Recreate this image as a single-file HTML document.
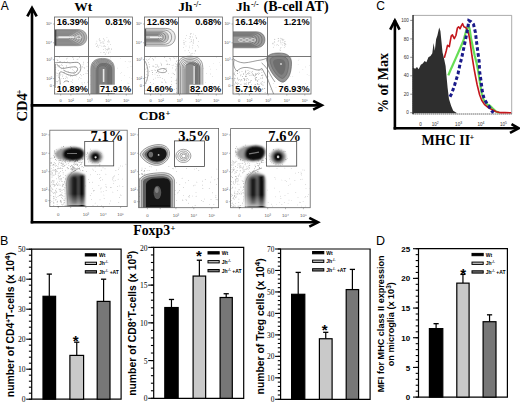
<!DOCTYPE html><html><head><meta charset="utf-8"><style>html,body{margin:0;padding:0;background:#fff;width:520px;height:403px;overflow:hidden}svg{display:block}</style></head><body><svg width="520" height="403" viewBox="0 0 520 403"><defs><filter id="bl" x="-30%" y="-30%" width="160%" height="160%"><feGaussianBlur stdDeviation="0.8"/></filter><filter id="bl2" x="-30%" y="-30%" width="160%" height="160%"><feGaussianBlur stdDeviation="0.6"/></filter><linearGradient id="fd" x1="0" y1="0" x2="0" y2="1"><stop offset="0" stop-color="#fff" stop-opacity="0"/><stop offset="1" stop-color="#fff" stop-opacity="0.55"/></linearGradient></defs><rect width="520" height="403" fill="#fff"/><text x="0.8" y="9.7" font-family="'Liberation Sans', sans-serif" font-size="12">A</text><text x="0" y="244.9" font-family="'Liberation Sans', sans-serif" font-size="12.5">B</text><text x="376.2" y="9.8" font-family="'Liberation Sans', sans-serif" font-size="12">C</text><text x="375.9" y="244.9" font-family="'Liberation Sans', sans-serif" font-size="12.5">D</text><g stroke="#000" stroke-width="2.6" fill="none" stroke-linecap="butt"><line x1="32" y1="8.5" x2="32" y2="223.4"/><polyline points="27.3,16.4 32,8 36.7,16.4" stroke-linejoin="miter"/><line x1="30.7" y1="105.4" x2="321" y2="105.4"/><polyline points="313.2,100.9 321.8,105.3 313.2,109.7"/><line x1="30.7" y1="222.3" x2="317" y2="222.3"/><polyline points="309.3,217.9 318,222.3 309.3,226.7"/></g><text x="74.2" y="11" font-family="'Liberation Serif', serif" font-weight="bold" font-size="13.5">Wt</text><text x="178.3" y="11.3" font-family="'Liberation Serif', serif" font-weight="bold" font-size="13.5">Jh</text><text x="193.4" y="6.6" font-family="'Liberation Serif', serif" font-weight="bold" font-size="8.2">-/-</text><text x="235.9" y="11.3" font-family="'Liberation Serif', serif" font-weight="bold" font-size="13.5">Jh</text><text x="251" y="6.6" font-family="'Liberation Serif', serif" font-weight="bold" font-size="8.2">-/-</text><text x="263.5" y="11.3" font-family="'Liberation Serif', serif" font-weight="bold" font-size="14.1">(B-cell AT)</text><text x="138.8" y="119.8" font-family="'Liberation Serif', serif" font-weight="bold" font-size="13.5">CD8</text><text x="165.5" y="116.4" font-family="'Liberation Serif', serif" font-weight="bold" font-size="8.6">+</text><text x="133.3" y="234.6" font-family="'Liberation Serif', serif" font-weight="bold" font-size="13.8">Foxp3</text><text x="170.6" y="231.2" font-family="'Liberation Serif', serif" font-weight="bold" font-size="8.6">+</text><text transform="translate(26.9,121.6) rotate(-90)" font-family="'Liberation Serif', serif" font-weight="bold" font-size="14.6">CD4</text><text transform="translate(22.2,94.6) rotate(-90)" font-family="'Liberation Serif', serif" font-weight="bold" font-size="8.6">+</text><rect x="54.5" y="17" width="78.0" height="77" fill="#fff"/><clipPath id="c54"><rect x="54.5" y="17" width="78.0" height="77"/></clipPath><line x1="60.7" y1="94" x2="60.7" y2="95.5" stroke="#777" stroke-width="0.5"/><text x="60.7" y="102.2" font-family="'Liberation Sans', sans-serif" font-size="4" fill="#555" text-anchor="middle">0</text><line x1="70.9" y1="94" x2="70.9" y2="95.5" stroke="#777" stroke-width="0.5"/><text x="70.9" y="102.2" font-family="'Liberation Sans', sans-serif" font-size="4" fill="#555" text-anchor="middle">10²</text><line x1="89.6" y1="94" x2="89.6" y2="95.5" stroke="#777" stroke-width="0.5"/><text x="89.6" y="102.2" font-family="'Liberation Sans', sans-serif" font-size="4" fill="#555" text-anchor="middle">10³</text><line x1="108.3" y1="94" x2="108.3" y2="95.5" stroke="#777" stroke-width="0.5"/><text x="108.3" y="102.2" font-family="'Liberation Sans', sans-serif" font-size="4" fill="#555" text-anchor="middle">10⁴</text><line x1="126.3" y1="94" x2="126.3" y2="95.5" stroke="#777" stroke-width="0.5"/><text x="126.3" y="102.2" font-family="'Liberation Sans', sans-serif" font-size="4" fill="#555" text-anchor="middle">10⁵</text><line x1="53.0" y1="85.6" x2="54.5" y2="85.6" stroke="#777" stroke-width="0.5"/><text x="52.0" y="87.0" font-family="'Liberation Sans', sans-serif" font-size="4" fill="#555" text-anchor="end">0</text><line x1="53.0" y1="78.6" x2="54.5" y2="78.6" stroke="#777" stroke-width="0.5"/><text x="52.0" y="80.0" font-family="'Liberation Sans', sans-serif" font-size="4" fill="#555" text-anchor="end">10²</text><line x1="53.0" y1="59.7" x2="54.5" y2="59.7" stroke="#777" stroke-width="0.5"/><text x="52.0" y="61.1" font-family="'Liberation Sans', sans-serif" font-size="4" fill="#555" text-anchor="end">10³</text><line x1="53.0" y1="42.8" x2="54.5" y2="42.8" stroke="#777" stroke-width="0.5"/><text x="52.0" y="44.2" font-family="'Liberation Sans', sans-serif" font-size="4" fill="#555" text-anchor="end">10⁴</text><line x1="53.0" y1="24.0" x2="54.5" y2="24.0" stroke="#777" stroke-width="0.5"/><text x="52.0" y="25.4" font-family="'Liberation Sans', sans-serif" font-size="4" fill="#555" text-anchor="end">10⁵</text><g clip-path="url(#c54)"><g fill="#8a8a8a" opacity="1"><circle cx="66.0" cy="62.6" r="0.35"/><circle cx="77.1" cy="59.7" r="0.35"/><circle cx="73.2" cy="70.5" r="0.35"/><circle cx="57.0" cy="75.8" r="0.35"/><circle cx="56.3" cy="73.0" r="0.35"/><circle cx="57.4" cy="60.4" r="0.35"/><circle cx="69.4" cy="87.6" r="0.35"/><circle cx="59.2" cy="65.3" r="0.35"/><circle cx="76.3" cy="92.1" r="0.35"/><circle cx="74.6" cy="71.7" r="0.35"/><circle cx="88.2" cy="58.7" r="0.35"/><circle cx="84.2" cy="67.7" r="0.35"/><circle cx="59.9" cy="61.4" r="0.35"/><circle cx="65.5" cy="87.2" r="0.35"/><circle cx="61.1" cy="78.5" r="0.35"/><circle cx="76.7" cy="70.8" r="0.35"/><circle cx="73.6" cy="59.3" r="0.35"/><circle cx="57.0" cy="64.6" r="0.35"/><circle cx="78.1" cy="72.8" r="0.35"/><circle cx="65.7" cy="78.7" r="0.35"/><circle cx="70.4" cy="68.1" r="0.35"/><circle cx="82.0" cy="82.9" r="0.35"/><circle cx="63.3" cy="78.3" r="0.35"/><circle cx="72.9" cy="89.4" r="0.35"/><circle cx="79.8" cy="67.7" r="0.35"/><circle cx="88.3" cy="61.4" r="0.35"/><circle cx="69.2" cy="85.0" r="0.35"/><circle cx="60.2" cy="75.1" r="0.35"/><circle cx="56.3" cy="81.7" r="0.35"/><circle cx="81.0" cy="78.2" r="0.35"/><circle cx="84.8" cy="68.6" r="0.35"/><circle cx="78.6" cy="79.0" r="0.35"/><circle cx="74.7" cy="73.9" r="0.35"/><circle cx="83.6" cy="92.0" r="0.35"/><circle cx="71.1" cy="81.6" r="0.35"/><circle cx="57.1" cy="83.0" r="0.35"/><circle cx="77.0" cy="93.7" r="0.35"/><circle cx="82.9" cy="67.5" r="0.35"/><circle cx="68.1" cy="81.7" r="0.35"/><circle cx="55.8" cy="74.1" r="0.35"/><circle cx="60.7" cy="61.3" r="0.35"/><circle cx="57.0" cy="85.4" r="0.35"/><circle cx="59.4" cy="66.2" r="0.35"/><circle cx="68.3" cy="89.2" r="0.35"/><circle cx="57.7" cy="73.6" r="0.35"/><circle cx="73.7" cy="89.7" r="0.35"/><circle cx="82.9" cy="89.0" r="0.35"/><circle cx="64.5" cy="72.4" r="0.35"/><circle cx="67.2" cy="89.7" r="0.35"/><circle cx="87.6" cy="62.6" r="0.35"/><circle cx="61.0" cy="65.6" r="0.35"/><circle cx="62.9" cy="74.9" r="0.35"/><circle cx="75.0" cy="66.7" r="0.35"/><circle cx="55.1" cy="72.5" r="0.35"/><circle cx="67.6" cy="78.0" r="0.35"/><circle cx="87.4" cy="82.5" r="0.35"/><circle cx="72.5" cy="79.9" r="0.35"/><circle cx="78.0" cy="59.0" r="0.35"/><circle cx="85.6" cy="85.9" r="0.35"/><circle cx="84.7" cy="86.5" r="0.35"/><circle cx="68.3" cy="71.8" r="0.35"/><circle cx="58.5" cy="80.5" r="0.35"/><circle cx="57.1" cy="59.5" r="0.35"/><circle cx="62.1" cy="63.0" r="0.35"/><circle cx="66.6" cy="58.9" r="0.35"/><circle cx="55.0" cy="62.6" r="0.35"/><circle cx="58.4" cy="70.5" r="0.35"/><circle cx="55.9" cy="89.4" r="0.35"/><circle cx="75.9" cy="62.5" r="0.35"/><circle cx="63.6" cy="69.9" r="0.35"/><circle cx="67.4" cy="61.5" r="0.35"/><circle cx="83.9" cy="93.7" r="0.35"/><circle cx="70.8" cy="74.9" r="0.35"/><circle cx="57.9" cy="60.8" r="0.35"/><circle cx="66.6" cy="66.8" r="0.35"/><circle cx="83.2" cy="63.0" r="0.35"/><circle cx="55.8" cy="92.2" r="0.35"/><circle cx="73.0" cy="62.4" r="0.35"/><circle cx="73.5" cy="58.0" r="0.35"/><circle cx="73.0" cy="93.2" r="0.35"/><circle cx="84.4" cy="82.8" r="0.35"/><circle cx="63.9" cy="70.6" r="0.35"/><circle cx="60.7" cy="85.6" r="0.35"/><circle cx="73.1" cy="85.8" r="0.35"/><circle cx="66.2" cy="65.3" r="0.35"/><circle cx="82.6" cy="93.4" r="0.35"/><circle cx="84.0" cy="86.8" r="0.35"/><circle cx="82.8" cy="84.4" r="0.35"/><circle cx="62.7" cy="76.2" r="0.35"/><circle cx="67.1" cy="58.1" r="0.35"/><circle cx="55.9" cy="67.3" r="0.35"/><circle cx="63.8" cy="82.6" r="0.35"/><circle cx="87.5" cy="73.5" r="0.35"/><circle cx="86.9" cy="93.6" r="0.35"/><circle cx="87.5" cy="70.5" r="0.35"/><circle cx="62.5" cy="65.4" r="0.35"/><circle cx="61.7" cy="64.6" r="0.35"/><circle cx="76.2" cy="90.3" r="0.35"/><circle cx="83.6" cy="74.7" r="0.35"/><circle cx="77.2" cy="86.6" r="0.35"/><circle cx="57.9" cy="81.4" r="0.35"/><circle cx="85.9" cy="85.9" r="0.35"/><circle cx="80.5" cy="74.7" r="0.35"/><circle cx="61.1" cy="86.2" r="0.35"/><circle cx="66.3" cy="86.6" r="0.35"/><circle cx="88.0" cy="71.6" r="0.35"/><circle cx="68.6" cy="92.0" r="0.35"/><circle cx="79.6" cy="63.3" r="0.35"/><circle cx="59.3" cy="62.6" r="0.35"/><circle cx="85.8" cy="86.8" r="0.35"/><circle cx="60.0" cy="87.6" r="0.35"/><circle cx="88.3" cy="81.3" r="0.35"/><circle cx="66.9" cy="77.3" r="0.35"/><circle cx="59.5" cy="57.5" r="0.35"/><circle cx="88.0" cy="81.0" r="0.35"/><circle cx="72.9" cy="91.5" r="0.35"/><circle cx="69.7" cy="89.3" r="0.35"/><circle cx="83.1" cy="64.8" r="0.35"/><circle cx="63.6" cy="67.8" r="0.35"/><circle cx="63.2" cy="78.7" r="0.35"/><circle cx="63.8" cy="72.5" r="0.35"/><circle cx="59.5" cy="90.7" r="0.35"/><circle cx="67.0" cy="74.0" r="0.35"/><circle cx="74.8" cy="90.5" r="0.35"/><circle cx="69.3" cy="91.0" r="0.35"/><circle cx="72.1" cy="76.7" r="0.35"/><circle cx="72.8" cy="57.7" r="0.35"/><circle cx="70.0" cy="63.8" r="0.35"/><circle cx="55.1" cy="86.6" r="0.35"/><circle cx="60.9" cy="74.5" r="0.35"/><circle cx="79.7" cy="77.6" r="0.35"/><circle cx="66.1" cy="76.2" r="0.35"/><circle cx="73.9" cy="86.0" r="0.35"/><circle cx="58.6" cy="77.7" r="0.35"/><circle cx="63.4" cy="67.2" r="0.35"/><circle cx="81.3" cy="75.8" r="0.35"/><circle cx="74.1" cy="85.1" r="0.35"/><circle cx="86.0" cy="73.4" r="0.35"/><circle cx="75.8" cy="75.7" r="0.35"/><circle cx="72.4" cy="82.6" r="0.35"/><circle cx="70.4" cy="76.7" r="0.35"/><circle cx="71.3" cy="91.8" r="0.35"/><circle cx="78.8" cy="89.4" r="0.35"/><circle cx="87.0" cy="66.6" r="0.35"/><circle cx="74.0" cy="91.9" r="0.35"/><circle cx="83.6" cy="62.1" r="0.35"/><circle cx="59.1" cy="73.4" r="0.35"/><circle cx="57.5" cy="65.9" r="0.35"/><circle cx="57.5" cy="81.8" r="0.35"/><circle cx="81.7" cy="90.2" r="0.35"/><circle cx="60.3" cy="83.5" r="0.35"/><circle cx="77.4" cy="62.3" r="0.35"/><circle cx="85.0" cy="92.8" r="0.35"/><circle cx="62.5" cy="92.2" r="0.35"/><circle cx="68.5" cy="75.0" r="0.35"/><circle cx="88.7" cy="87.8" r="0.35"/><circle cx="60.5" cy="73.0" r="0.35"/><circle cx="72.5" cy="69.5" r="0.35"/><circle cx="61.7" cy="68.8" r="0.35"/><circle cx="79.6" cy="57.7" r="0.35"/><circle cx="73.8" cy="73.3" r="0.35"/><circle cx="55.6" cy="69.3" r="0.35"/><circle cx="76.2" cy="76.0" r="0.35"/><circle cx="57.2" cy="93.4" r="0.35"/><circle cx="81.8" cy="93.0" r="0.35"/><circle cx="58.6" cy="66.8" r="0.35"/><circle cx="56.3" cy="85.8" r="0.35"/><circle cx="64.2" cy="61.8" r="0.35"/><circle cx="69.4" cy="90.7" r="0.35"/><circle cx="82.8" cy="66.6" r="0.35"/></g><g fill="#999" opacity="1"><circle cx="105.4" cy="50.0" r="0.35"/><circle cx="107.8" cy="44.5" r="0.35"/><circle cx="106.7" cy="52.0" r="0.35"/><circle cx="103.1" cy="42.8" r="0.35"/><circle cx="105.1" cy="54.5" r="0.35"/><circle cx="99.4" cy="38.6" r="0.35"/><circle cx="104.5" cy="40.8" r="0.35"/><circle cx="100.2" cy="42.1" r="0.35"/><circle cx="109.2" cy="41.8" r="0.35"/><circle cx="104.0" cy="39.6" r="0.35"/><circle cx="108.7" cy="47.0" r="0.35"/><circle cx="97.8" cy="45.5" r="0.35"/><circle cx="110.4" cy="44.6" r="0.35"/><circle cx="103.9" cy="52.7" r="0.35"/><circle cx="101.9" cy="46.1" r="0.35"/><circle cx="100.9" cy="52.6" r="0.35"/><circle cx="108.1" cy="48.7" r="0.35"/><circle cx="102.1" cy="43.0" r="0.35"/><circle cx="99.1" cy="39.3" r="0.35"/><circle cx="111.4" cy="49.4" r="0.35"/><circle cx="99.6" cy="40.8" r="0.35"/><circle cx="99.9" cy="45.2" r="0.35"/><circle cx="97.2" cy="44.9" r="0.35"/><circle cx="100.2" cy="43.1" r="0.35"/><circle cx="103.5" cy="46.1" r="0.35"/><circle cx="98.0" cy="46.1" r="0.35"/><circle cx="95.8" cy="44.0" r="0.35"/><circle cx="100.1" cy="40.7" r="0.35"/><circle cx="105.7" cy="46.6" r="0.35"/><circle cx="109.0" cy="49.2" r="0.35"/><circle cx="108.3" cy="53.6" r="0.35"/><circle cx="101.8" cy="42.5" r="0.35"/><circle cx="108.5" cy="48.9" r="0.35"/><circle cx="111.8" cy="48.5" r="0.35"/><circle cx="108.7" cy="52.2" r="0.35"/><circle cx="96.8" cy="46.5" r="0.35"/><circle cx="104.1" cy="52.7" r="0.35"/><circle cx="110.1" cy="52.5" r="0.35"/><circle cx="105.7" cy="53.9" r="0.35"/><circle cx="107.7" cy="49.9" r="0.35"/><circle cx="96.7" cy="43.2" r="0.35"/><circle cx="105.2" cy="48.6" r="0.35"/><circle cx="106.5" cy="49.6" r="0.35"/><circle cx="110.0" cy="51.0" r="0.35"/><circle cx="104.1" cy="46.7" r="0.35"/><circle cx="108.7" cy="41.0" r="0.35"/><circle cx="108.6" cy="40.1" r="0.35"/><circle cx="103.9" cy="43.7" r="0.35"/><circle cx="103.6" cy="49.7" r="0.35"/><circle cx="109.3" cy="48.3" r="0.35"/><circle cx="106.9" cy="37.5" r="0.35"/><circle cx="96.9" cy="41.1" r="0.35"/><circle cx="108.9" cy="42.1" r="0.35"/><circle cx="107.4" cy="49.8" r="0.35"/><circle cx="107.5" cy="41.8" r="0.35"/><circle cx="104.3" cy="45.3" r="0.35"/><circle cx="103.3" cy="38.4" r="0.35"/><circle cx="103.0" cy="41.4" r="0.35"/><circle cx="98.2" cy="47.6" r="0.35"/><circle cx="96.8" cy="46.5" r="0.35"/></g><g fill="#aaa" opacity="1"><circle cx="130.0" cy="61.9" r="0.3"/><circle cx="124.4" cy="75.8" r="0.3"/><circle cx="127.2" cy="83.0" r="0.3"/><circle cx="99.7" cy="90.2" r="0.3"/><circle cx="110.4" cy="57.9" r="0.3"/><circle cx="90.2" cy="75.2" r="0.3"/><circle cx="108.9" cy="68.2" r="0.3"/><circle cx="95.9" cy="69.7" r="0.3"/><circle cx="103.3" cy="88.1" r="0.3"/><circle cx="90.1" cy="84.8" r="0.3"/><circle cx="125.2" cy="61.4" r="0.3"/><circle cx="128.9" cy="83.4" r="0.3"/><circle cx="127.9" cy="67.7" r="0.3"/><circle cx="105.6" cy="71.5" r="0.3"/><circle cx="131.9" cy="78.8" r="0.3"/><circle cx="105.1" cy="72.8" r="0.3"/><circle cx="101.6" cy="58.8" r="0.3"/><circle cx="94.3" cy="87.9" r="0.3"/><circle cx="102.0" cy="91.6" r="0.3"/><circle cx="100.5" cy="66.8" r="0.3"/><circle cx="111.5" cy="64.0" r="0.3"/><circle cx="105.7" cy="92.4" r="0.3"/><circle cx="127.1" cy="87.0" r="0.3"/><circle cx="116.5" cy="90.8" r="0.3"/><circle cx="129.5" cy="77.3" r="0.3"/><circle cx="120.2" cy="58.8" r="0.3"/><circle cx="120.8" cy="73.7" r="0.3"/><circle cx="121.6" cy="80.8" r="0.3"/><circle cx="102.0" cy="58.8" r="0.3"/><circle cx="128.9" cy="61.7" r="0.3"/><circle cx="109.8" cy="69.7" r="0.3"/><circle cx="102.5" cy="84.3" r="0.3"/><circle cx="131.0" cy="66.6" r="0.3"/><circle cx="117.6" cy="68.1" r="0.3"/><circle cx="113.4" cy="71.6" r="0.3"/><circle cx="97.0" cy="63.0" r="0.3"/><circle cx="98.7" cy="90.5" r="0.3"/><circle cx="110.9" cy="65.1" r="0.3"/><circle cx="128.1" cy="93.9" r="0.3"/><circle cx="108.9" cy="62.2" r="0.3"/><circle cx="98.1" cy="60.4" r="0.3"/><circle cx="104.4" cy="60.4" r="0.3"/><circle cx="100.0" cy="66.6" r="0.3"/><circle cx="113.9" cy="89.8" r="0.3"/><circle cx="121.5" cy="72.3" r="0.3"/><circle cx="107.4" cy="76.4" r="0.3"/><circle cx="105.8" cy="69.5" r="0.3"/><circle cx="92.6" cy="67.3" r="0.3"/><circle cx="130.6" cy="61.7" r="0.3"/><circle cx="111.1" cy="80.3" r="0.3"/></g><path d="M53.0,29.5 L77.9,29.5 C83.7,29.5 86.8,33.1 86.8,37.6 C86.8,42.1 83.7,45.7 77.9,45.7 L53.0,45.7 Z" fill="#b4b4b4"/><g fill="none" stroke="#5f5f5f" stroke-width="0.5"><path d="M52.5,29.5 L77.9,29.5 C83.7,29.5 86.8,33.1 86.8,37.6 C86.8,42.1 83.7,45.7 77.9,45.7 L52.5,45.7"/><path d="M52.5,30.5 L76.4,30.5 C81.5,30.5 84.3,33.7 84.3,37.6 C84.3,41.5 81.5,44.7 76.4,44.7 L52.5,44.7"/><path d="M52.5,31.4 L75.0,31.4 C79.4,31.4 81.8,34.2 81.8,37.6 C81.8,41.0 79.4,43.8 75.0,43.8 L52.5,43.8"/><path d="M52.5,32.4 L73.5,32.4 C77.2,32.4 79.2,34.7 79.2,37.6 C79.2,40.5 77.2,42.8 73.5,42.8 L52.5,42.8"/><path d="M52.5,33.4 L72.1,33.4 C75.1,33.4 76.7,35.3 76.7,37.6 C76.7,39.9 75.1,41.8 72.1,41.8 L52.5,41.8"/><path d="M52.5,34.3 L70.8,34.3 C73.1,34.3 74.4,35.8 74.4,37.6 C74.4,39.4 73.1,40.9 70.8,40.9 L52.5,40.9"/><path d="M52.5,35.2 L69.4,35.2 C71.2,35.2 72.1,36.3 72.1,37.6 C72.1,38.9 71.2,40.0 69.4,40.0 L52.5,40.0"/><path d="M52.5,36.0 L68.2,36.0 C69.4,36.0 70.0,36.7 70.0,37.6 C70.0,38.5 69.4,39.2 68.2,39.2 L52.5,39.2"/></g><rect x="54.5" y="30" width="1.8" height="15.5" fill="#444"/><line x1="58.4" y1="37.2" x2="74.5" y2="37.2" stroke="#fff" stroke-width="1.3"/><ellipse cx="78.6" cy="37.2" rx="2.6" ry="1.5" fill="none" stroke="#eee" stroke-width="0.8"/><path d="M90.8,96.0 L90.8,69.0 C90.8,60.8 96.1,58.4 102.6,58.4 C109.1,58.4 114.4,60.8 114.4,69.0 L114.4,96.0 Z" fill="#b0b0b0"/><path d="M96.2,96.0 L96.2,70.2 C96.2,64.6 99.8,63.0 104.2,63.0 C108.6,63.0 112.2,64.6 112.2,70.2 L112.2,96.0 Z" fill="#7e7e7e"/><g fill="none" stroke="#5a5a5a" stroke-width="0.5"><path d="M90.8,96.0 L90.8,69.0 C90.8,60.8 96.1,58.4 102.6,58.4 C109.1,58.4 114.4,60.8 114.4,69.0 L114.4,96.0"/><path d="M92.0,96.0 L92.0,69.2 C92.0,61.7 96.8,59.6 102.6,59.6 C108.4,59.6 113.2,61.7 113.2,69.2 L113.2,96.0"/><path d="M93.2,96.0 L93.2,69.3 C93.2,62.7 97.4,60.8 102.6,60.8 C107.8,60.8 112.0,62.7 112.0,69.3 L112.0,96.0"/><path d="M94.3,96.0 L94.3,69.4 C94.3,63.7 98.1,62.0 102.6,62.0 C107.1,62.0 110.9,63.7 110.9,69.4 L110.9,96.0"/><path d="M95.5,96.0 L95.5,69.6 C95.5,64.6 98.7,63.2 102.6,63.2 C106.5,63.2 109.7,64.6 109.7,69.6 L109.7,96.0"/><path d="M96.7,96.0 L96.7,69.7 C96.7,65.6 99.4,64.4 102.6,64.4 C105.8,64.4 108.5,65.6 108.5,69.7 L108.5,96.0"/><path d="M97.9,96.0 L97.9,69.8 C97.9,66.5 100.0,65.6 102.6,65.6 C105.2,65.6 107.3,66.5 107.3,69.8 L107.3,96.0"/></g><line x1="103.6" y1="69" x2="103.6" y2="82" stroke="#e8e8e8" stroke-width="1.6"/><g fill="none" stroke="#5a5a5a" stroke-width="0.6"><path d="M54.6,62.9 C60,61.5 70,63.5 76,62.3 C80,62 81.5,66 80.5,70 C79.5,74 75,76 70.8,75.4 C67,75 63,72 60.9,71.7 C59,72 58.8,76 59.8,79.5 C60.5,83 60,86 59.5,88"/><path d="M57.2,64.4 C59,67 61,68.8 64,68.4 C68,67.5 73,66.5 76,67 C78.5,67.8 78,71.5 74.9,72.8 C71,73.5 67,72 64,70.5"/><path d="M64,82 C65.5,80.5 67.5,80.5 69,82"/><path d="M55.5,64 L55.5,88"/></g></g><rect x="55.8" y="17.5" width="32.7" height="8.3" fill="#fff"/><text x="56.8" y="24.8" font-family="'Liberation Sans', sans-serif" font-weight="bold" font-size="9.2" text-anchor="start">16.39%</text><rect x="104.6" y="17.5" width="27.6" height="8.3" fill="#fff"/><text x="131.2" y="24.8" font-family="'Liberation Sans', sans-serif" font-weight="bold" font-size="9.2" text-anchor="end">0.81%</text><rect x="55.8" y="84.7" width="32.7" height="8.3" fill="#fff"/><text x="56.8" y="92" font-family="'Liberation Sans', sans-serif" font-weight="bold" font-size="9.2" text-anchor="start">10.89%</text><rect x="99.5" y="84.7" width="32.7" height="8.3" fill="#fff"/><text x="131.2" y="92" font-family="'Liberation Sans', sans-serif" font-weight="bold" font-size="9.2" text-anchor="end">71.91%</text><line x1="88.5" y1="17" x2="88.5" y2="94" stroke="#666" stroke-width="0.9"/><line x1="54.5" y1="56.5" x2="132.5" y2="56.5" stroke="#666" stroke-width="0.9"/><rect x="54.5" y="17" width="78.0" height="77" fill="none" stroke="#666" stroke-width="0.8"/><rect x="144.5" y="17" width="78.0" height="77" fill="#fff"/><clipPath id="c144"><rect x="144.5" y="17" width="78.0" height="77"/></clipPath><line x1="150.7" y1="94" x2="150.7" y2="95.5" stroke="#777" stroke-width="0.5"/><text x="150.7" y="102.2" font-family="'Liberation Sans', sans-serif" font-size="4" fill="#555" text-anchor="middle">0</text><line x1="160.9" y1="94" x2="160.9" y2="95.5" stroke="#777" stroke-width="0.5"/><text x="160.9" y="102.2" font-family="'Liberation Sans', sans-serif" font-size="4" fill="#555" text-anchor="middle">10²</text><line x1="179.6" y1="94" x2="179.6" y2="95.5" stroke="#777" stroke-width="0.5"/><text x="179.6" y="102.2" font-family="'Liberation Sans', sans-serif" font-size="4" fill="#555" text-anchor="middle">10³</text><line x1="198.3" y1="94" x2="198.3" y2="95.5" stroke="#777" stroke-width="0.5"/><text x="198.3" y="102.2" font-family="'Liberation Sans', sans-serif" font-size="4" fill="#555" text-anchor="middle">10⁴</text><line x1="216.3" y1="94" x2="216.3" y2="95.5" stroke="#777" stroke-width="0.5"/><text x="216.3" y="102.2" font-family="'Liberation Sans', sans-serif" font-size="4" fill="#555" text-anchor="middle">10⁵</text><line x1="143.0" y1="85.6" x2="144.5" y2="85.6" stroke="#777" stroke-width="0.5"/><text x="142.0" y="87.0" font-family="'Liberation Sans', sans-serif" font-size="4" fill="#555" text-anchor="end">0</text><line x1="143.0" y1="78.6" x2="144.5" y2="78.6" stroke="#777" stroke-width="0.5"/><text x="142.0" y="80.0" font-family="'Liberation Sans', sans-serif" font-size="4" fill="#555" text-anchor="end">10²</text><line x1="143.0" y1="59.7" x2="144.5" y2="59.7" stroke="#777" stroke-width="0.5"/><text x="142.0" y="61.1" font-family="'Liberation Sans', sans-serif" font-size="4" fill="#555" text-anchor="end">10³</text><line x1="143.0" y1="42.8" x2="144.5" y2="42.8" stroke="#777" stroke-width="0.5"/><text x="142.0" y="44.2" font-family="'Liberation Sans', sans-serif" font-size="4" fill="#555" text-anchor="end">10⁴</text><line x1="143.0" y1="24.0" x2="144.5" y2="24.0" stroke="#777" stroke-width="0.5"/><text x="142.0" y="25.4" font-family="'Liberation Sans', sans-serif" font-size="4" fill="#555" text-anchor="end">10⁵</text><g clip-path="url(#c144)"><g fill="#8a8a8a" opacity="1"><circle cx="173.5" cy="65.0" r="0.35"/><circle cx="153.9" cy="66.2" r="0.35"/><circle cx="158.2" cy="73.5" r="0.35"/><circle cx="176.5" cy="88.4" r="0.35"/><circle cx="173.8" cy="57.8" r="0.35"/><circle cx="146.1" cy="83.3" r="0.35"/><circle cx="174.6" cy="74.5" r="0.35"/><circle cx="164.4" cy="57.0" r="0.35"/><circle cx="157.9" cy="91.3" r="0.35"/><circle cx="172.2" cy="88.7" r="0.35"/><circle cx="177.1" cy="66.2" r="0.35"/><circle cx="148.6" cy="62.7" r="0.35"/><circle cx="162.2" cy="82.2" r="0.35"/><circle cx="176.1" cy="83.7" r="0.35"/><circle cx="166.4" cy="85.3" r="0.35"/><circle cx="160.1" cy="77.4" r="0.35"/><circle cx="146.3" cy="85.9" r="0.35"/><circle cx="152.7" cy="91.0" r="0.35"/><circle cx="166.3" cy="68.2" r="0.35"/><circle cx="149.2" cy="66.3" r="0.35"/><circle cx="166.0" cy="82.8" r="0.35"/><circle cx="148.7" cy="59.6" r="0.35"/><circle cx="162.3" cy="78.6" r="0.35"/><circle cx="157.8" cy="65.3" r="0.35"/><circle cx="164.8" cy="57.4" r="0.35"/><circle cx="155.0" cy="74.0" r="0.35"/><circle cx="176.6" cy="80.8" r="0.35"/><circle cx="174.2" cy="74.6" r="0.35"/><circle cx="152.7" cy="66.1" r="0.35"/><circle cx="176.7" cy="83.1" r="0.35"/><circle cx="155.1" cy="57.8" r="0.35"/><circle cx="161.4" cy="82.0" r="0.35"/><circle cx="158.9" cy="66.5" r="0.35"/><circle cx="167.0" cy="91.2" r="0.35"/><circle cx="152.5" cy="58.3" r="0.35"/><circle cx="156.2" cy="72.6" r="0.35"/><circle cx="167.5" cy="64.3" r="0.35"/><circle cx="171.3" cy="84.3" r="0.35"/><circle cx="161.7" cy="64.6" r="0.35"/><circle cx="177.0" cy="68.5" r="0.35"/><circle cx="172.1" cy="65.5" r="0.35"/><circle cx="152.3" cy="85.1" r="0.35"/><circle cx="154.7" cy="92.2" r="0.35"/><circle cx="161.4" cy="63.9" r="0.35"/><circle cx="152.4" cy="72.4" r="0.35"/><circle cx="167.0" cy="92.1" r="0.35"/><circle cx="149.8" cy="71.6" r="0.35"/><circle cx="152.0" cy="93.0" r="0.35"/><circle cx="149.7" cy="58.9" r="0.35"/><circle cx="147.0" cy="71.6" r="0.35"/><circle cx="174.6" cy="89.7" r="0.35"/><circle cx="169.2" cy="93.9" r="0.35"/><circle cx="175.7" cy="69.2" r="0.35"/><circle cx="151.1" cy="91.6" r="0.35"/><circle cx="169.6" cy="58.2" r="0.35"/><circle cx="166.9" cy="71.0" r="0.35"/><circle cx="157.3" cy="69.3" r="0.35"/><circle cx="150.6" cy="57.1" r="0.35"/><circle cx="154.2" cy="70.0" r="0.35"/><circle cx="176.5" cy="61.6" r="0.35"/><circle cx="176.8" cy="64.7" r="0.35"/><circle cx="156.8" cy="87.4" r="0.35"/><circle cx="172.1" cy="73.0" r="0.35"/><circle cx="146.6" cy="74.5" r="0.35"/><circle cx="157.3" cy="91.0" r="0.35"/><circle cx="151.4" cy="70.5" r="0.35"/><circle cx="174.6" cy="58.1" r="0.35"/><circle cx="158.6" cy="87.0" r="0.35"/><circle cx="170.3" cy="58.5" r="0.35"/><circle cx="146.2" cy="59.3" r="0.35"/><circle cx="175.4" cy="66.5" r="0.35"/><circle cx="169.7" cy="90.2" r="0.35"/><circle cx="156.2" cy="67.1" r="0.35"/><circle cx="176.6" cy="79.8" r="0.35"/><circle cx="153.7" cy="83.5" r="0.35"/><circle cx="155.4" cy="67.2" r="0.35"/><circle cx="145.1" cy="85.0" r="0.35"/><circle cx="175.2" cy="80.5" r="0.35"/><circle cx="176.1" cy="57.9" r="0.35"/><circle cx="152.7" cy="74.6" r="0.35"/><circle cx="176.6" cy="92.3" r="0.35"/><circle cx="157.8" cy="66.3" r="0.35"/><circle cx="159.2" cy="75.3" r="0.35"/><circle cx="175.6" cy="63.8" r="0.35"/><circle cx="171.5" cy="84.3" r="0.35"/><circle cx="172.2" cy="85.6" r="0.35"/><circle cx="165.0" cy="69.1" r="0.35"/><circle cx="155.5" cy="70.4" r="0.35"/><circle cx="170.8" cy="59.9" r="0.35"/><circle cx="151.5" cy="84.9" r="0.35"/><circle cx="153.2" cy="59.4" r="0.35"/><circle cx="146.1" cy="77.4" r="0.35"/><circle cx="155.8" cy="93.3" r="0.35"/><circle cx="174.2" cy="93.5" r="0.35"/><circle cx="153.7" cy="60.1" r="0.35"/><circle cx="148.2" cy="75.4" r="0.35"/><circle cx="168.4" cy="73.5" r="0.35"/><circle cx="152.7" cy="72.4" r="0.35"/><circle cx="165.5" cy="81.9" r="0.35"/><circle cx="169.7" cy="88.3" r="0.35"/><circle cx="166.9" cy="61.5" r="0.35"/><circle cx="172.7" cy="67.9" r="0.35"/><circle cx="163.7" cy="70.8" r="0.35"/><circle cx="169.4" cy="64.4" r="0.35"/><circle cx="153.2" cy="66.1" r="0.35"/><circle cx="150.1" cy="89.7" r="0.35"/><circle cx="164.1" cy="69.1" r="0.35"/><circle cx="158.1" cy="93.7" r="0.35"/><circle cx="161.7" cy="65.6" r="0.35"/><circle cx="171.7" cy="81.2" r="0.35"/><circle cx="177.7" cy="60.8" r="0.35"/><circle cx="160.7" cy="87.3" r="0.35"/><circle cx="172.7" cy="90.8" r="0.35"/><circle cx="146.3" cy="67.9" r="0.35"/><circle cx="148.9" cy="64.0" r="0.35"/><circle cx="177.1" cy="78.6" r="0.35"/><circle cx="175.7" cy="70.8" r="0.35"/><circle cx="173.6" cy="73.6" r="0.35"/><circle cx="153.6" cy="85.8" r="0.35"/><circle cx="176.2" cy="60.9" r="0.35"/><circle cx="164.7" cy="79.9" r="0.35"/><circle cx="152.2" cy="70.6" r="0.35"/><circle cx="149.7" cy="64.5" r="0.35"/><circle cx="153.4" cy="79.2" r="0.35"/><circle cx="166.5" cy="64.5" r="0.35"/><circle cx="145.4" cy="69.1" r="0.35"/><circle cx="167.4" cy="63.9" r="0.35"/><circle cx="155.3" cy="64.5" r="0.35"/><circle cx="171.2" cy="77.3" r="0.35"/><circle cx="147.1" cy="60.8" r="0.35"/><circle cx="158.0" cy="77.4" r="0.35"/><circle cx="166.1" cy="60.4" r="0.35"/><circle cx="150.4" cy="82.7" r="0.35"/><circle cx="158.5" cy="67.5" r="0.35"/><circle cx="155.2" cy="92.3" r="0.35"/><circle cx="155.3" cy="78.0" r="0.35"/><circle cx="156.8" cy="72.4" r="0.35"/><circle cx="173.5" cy="93.9" r="0.35"/><circle cx="157.0" cy="64.3" r="0.35"/><circle cx="169.0" cy="64.5" r="0.35"/><circle cx="145.2" cy="90.4" r="0.35"/><circle cx="159.0" cy="87.4" r="0.35"/><circle cx="158.4" cy="89.7" r="0.35"/><circle cx="160.2" cy="63.0" r="0.35"/><circle cx="145.5" cy="77.4" r="0.35"/><circle cx="166.1" cy="90.7" r="0.35"/><circle cx="147.9" cy="80.0" r="0.35"/><circle cx="157.2" cy="75.7" r="0.35"/><circle cx="149.8" cy="67.5" r="0.35"/><circle cx="162.2" cy="91.2" r="0.35"/></g><g fill="#999" opacity="1"><circle cx="184.0" cy="43.8" r="0.35"/><circle cx="190.7" cy="33.3" r="0.35"/><circle cx="198.7" cy="41.3" r="0.35"/><circle cx="198.3" cy="46.9" r="0.35"/><circle cx="196.1" cy="37.3" r="0.35"/><circle cx="189.3" cy="52.3" r="0.35"/><circle cx="185.9" cy="41.6" r="0.35"/><circle cx="191.3" cy="41.2" r="0.35"/><circle cx="192.8" cy="45.2" r="0.35"/><circle cx="193.3" cy="39.3" r="0.35"/><circle cx="189.6" cy="46.0" r="0.35"/><circle cx="189.7" cy="47.8" r="0.35"/><circle cx="190.0" cy="42.5" r="0.35"/><circle cx="190.8" cy="37.6" r="0.35"/><circle cx="195.7" cy="50.7" r="0.35"/><circle cx="190.2" cy="36.3" r="0.35"/><circle cx="190.5" cy="34.6" r="0.35"/><circle cx="184.3" cy="42.3" r="0.35"/><circle cx="183.7" cy="42.6" r="0.35"/><circle cx="193.5" cy="34.0" r="0.35"/><circle cx="195.2" cy="50.7" r="0.35"/><circle cx="191.2" cy="33.3" r="0.35"/><circle cx="191.1" cy="41.1" r="0.35"/><circle cx="195.2" cy="51.6" r="0.35"/><circle cx="190.9" cy="55.0" r="0.35"/><circle cx="195.6" cy="35.8" r="0.35"/><circle cx="191.0" cy="54.1" r="0.35"/><circle cx="185.7" cy="38.3" r="0.35"/><circle cx="191.1" cy="39.7" r="0.35"/><circle cx="194.2" cy="53.5" r="0.35"/><circle cx="185.0" cy="50.8" r="0.35"/><circle cx="184.1" cy="44.7" r="0.35"/><circle cx="193.5" cy="40.6" r="0.35"/><circle cx="197.7" cy="45.3" r="0.35"/><circle cx="192.4" cy="53.2" r="0.35"/><circle cx="193.3" cy="41.5" r="0.35"/><circle cx="196.4" cy="38.4" r="0.35"/><circle cx="188.5" cy="50.4" r="0.35"/><circle cx="190.0" cy="36.2" r="0.35"/><circle cx="196.8" cy="38.1" r="0.35"/><circle cx="192.5" cy="47.9" r="0.35"/><circle cx="193.1" cy="42.4" r="0.35"/><circle cx="191.2" cy="53.5" r="0.35"/><circle cx="183.9" cy="40.6" r="0.35"/><circle cx="186.0" cy="46.0" r="0.35"/><circle cx="192.6" cy="36.9" r="0.35"/><circle cx="193.2" cy="43.4" r="0.35"/><circle cx="186.4" cy="35.6" r="0.35"/><circle cx="183.7" cy="47.3" r="0.35"/><circle cx="189.2" cy="38.3" r="0.35"/></g><g fill="#aaa" opacity="1"><circle cx="178.5" cy="80.9" r="0.3"/><circle cx="202.7" cy="70.0" r="0.3"/><circle cx="206.4" cy="73.4" r="0.3"/><circle cx="219.2" cy="84.1" r="0.3"/><circle cx="188.9" cy="90.4" r="0.3"/><circle cx="179.9" cy="76.7" r="0.3"/><circle cx="195.9" cy="65.8" r="0.3"/><circle cx="180.6" cy="85.8" r="0.3"/><circle cx="178.5" cy="77.4" r="0.3"/><circle cx="219.4" cy="62.3" r="0.3"/><circle cx="186.8" cy="79.5" r="0.3"/><circle cx="200.3" cy="80.7" r="0.3"/><circle cx="213.8" cy="63.5" r="0.3"/><circle cx="191.6" cy="68.1" r="0.3"/><circle cx="180.1" cy="89.9" r="0.3"/><circle cx="212.5" cy="83.5" r="0.3"/><circle cx="178.3" cy="88.2" r="0.3"/><circle cx="210.8" cy="74.2" r="0.3"/><circle cx="210.6" cy="73.7" r="0.3"/><circle cx="187.9" cy="60.9" r="0.3"/><circle cx="188.2" cy="58.4" r="0.3"/><circle cx="192.8" cy="84.7" r="0.3"/><circle cx="208.6" cy="88.3" r="0.3"/><circle cx="209.3" cy="66.8" r="0.3"/><circle cx="202.4" cy="73.1" r="0.3"/><circle cx="212.7" cy="76.4" r="0.3"/><circle cx="189.7" cy="80.8" r="0.3"/><circle cx="220.5" cy="65.0" r="0.3"/><circle cx="216.7" cy="57.6" r="0.3"/><circle cx="189.5" cy="65.7" r="0.3"/><circle cx="210.7" cy="92.0" r="0.3"/><circle cx="210.8" cy="69.1" r="0.3"/><circle cx="216.7" cy="69.2" r="0.3"/><circle cx="188.5" cy="90.6" r="0.3"/><circle cx="205.8" cy="82.6" r="0.3"/><circle cx="207.3" cy="93.2" r="0.3"/><circle cx="198.7" cy="88.1" r="0.3"/><circle cx="208.7" cy="88.7" r="0.3"/><circle cx="197.2" cy="83.8" r="0.3"/><circle cx="203.1" cy="68.4" r="0.3"/></g><path d="M143.0,28.4 L165.5,28.4 C171.8,28.4 175.2,32.4 175.2,37.2 C175.2,42.0 171.8,46.0 165.5,46.0 L143.0,46.0 Z" fill="#ececec"/><path d="M143.0,32.2 L162.5,32.2 C166.1,32.2 168.0,34.5 168.0,37.2 C168.0,40.0 166.1,42.2 162.5,42.2 L143.0,42.2 Z" fill="#c4c4c4"/><g fill="none" stroke="#555" stroke-width="0.55"><path d="M142.5,28.4 L165.5,28.4 C171.8,28.4 175.2,32.4 175.2,37.2 C175.2,42.0 171.8,46.0 165.5,46.0 L142.5,46.0"/><path d="M142.5,30.0 L163.7,30.0 C168.8,30.0 171.6,33.2 171.6,37.2 C171.6,41.2 168.8,44.4 163.7,44.4 L142.5,44.4"/><path d="M142.5,31.4 L162.0,31.4 C166.2,31.4 168.4,34.0 168.4,37.2 C168.4,40.4 166.2,43.0 162.0,43.0 L142.5,43.0"/><path d="M142.5,32.6 L160.6,32.6 C163.9,32.6 165.6,34.7 165.6,37.2 C165.6,39.7 163.9,41.8 160.6,41.8 L142.5,41.8"/><path d="M142.5,33.7 L159.4,33.7 C161.9,33.7 163.2,35.3 163.2,37.2 C163.2,39.1 161.9,40.7 159.4,40.7 L142.5,40.7"/><path d="M142.5,34.6 L158.3,34.6 C160.2,34.6 161.2,35.7 161.2,37.2 C161.2,38.7 160.2,39.8 158.3,39.8 L142.5,39.8"/><path d="M142.5,35.4 L157.3,35.4 C158.6,35.4 159.2,36.2 159.2,37.2 C159.2,38.2 158.6,39.0 157.3,39.0 L142.5,39.0"/></g><rect x="144.5" y="29" width="1.6" height="17" fill="#555"/><line x1="150" y1="37.2" x2="162" y2="37.2" stroke="#fff" stroke-width="1.1"/><path d="M177.2,96.0 L177.2,67.7 C177.2,58.8 183.0,56.2 190.0,56.2 C197.0,56.2 202.8,58.8 202.8,67.7 L202.8,96.0 Z" fill="#eeeeee"/><path d="M185.2,96.0 L185.2,69.0 C185.2,63.7 188.6,62.2 192.8,62.2 C197.0,62.2 200.4,63.7 200.4,69.0 L200.4,96.0 Z" fill="#8e8e8e"/><g fill="none" stroke="#555" stroke-width="0.55"><path d="M177.2,96.0 L177.2,67.7 C177.2,58.8 183.0,56.2 190.0,56.2 C197.0,56.2 202.8,58.8 202.8,67.7 L202.8,96.0"/><path d="M179.0,96.0 L179.0,67.9 C179.0,60.2 183.9,58.0 190.0,58.0 C196.1,58.0 201.0,60.2 201.0,67.9 L201.0,96.0"/><path d="M180.5,96.0 L180.5,68.1 C180.5,61.5 184.8,59.6 190.0,59.6 C195.2,59.6 199.5,61.5 199.5,68.1 L199.5,96.0"/><path d="M182.1,96.0 L182.1,68.3 C182.1,62.7 185.6,61.1 190.0,61.1 C194.4,61.1 197.9,62.7 197.9,68.3 L197.9,96.0"/><path d="M183.3,96.0 L183.3,68.4 C183.3,63.8 186.3,62.4 190.0,62.4 C193.7,62.4 196.7,63.8 196.7,68.4 L196.7,96.0"/><path d="M184.6,96.0 L184.6,68.6 C184.6,64.8 187.0,63.7 190.0,63.7 C193.0,63.7 195.4,64.8 195.4,68.6 L195.4,96.0"/></g><line x1="194.1" y1="66" x2="194.1" y2="84" stroke="#ddd" stroke-width="1.5"/><g fill="none" stroke="#666" stroke-width="0.6"><path d="M157,71 C160,68 166,67.5 166.5,70.5 C167,73 161,73.5 157,71 Z"/><path d="M145,61 C149,68 149,78 145,84"/></g></g><rect x="145.8" y="17.5" width="32.7" height="8.3" fill="#fff"/><text x="146.8" y="24.8" font-family="'Liberation Sans', sans-serif" font-weight="bold" font-size="9.2" text-anchor="start">12.63%</text><rect x="194.6" y="17.5" width="27.6" height="8.3" fill="#fff"/><text x="221.2" y="24.8" font-family="'Liberation Sans', sans-serif" font-weight="bold" font-size="9.2" text-anchor="end">0.68%</text><rect x="145.8" y="84.7" width="27.6" height="8.3" fill="#fff"/><text x="146.8" y="92" font-family="'Liberation Sans', sans-serif" font-weight="bold" font-size="9.2" text-anchor="start">4.60%</text><rect x="189.5" y="84.7" width="32.7" height="8.3" fill="#fff"/><text x="221.2" y="92" font-family="'Liberation Sans', sans-serif" font-weight="bold" font-size="9.2" text-anchor="end">82.08%</text><line x1="178.5" y1="17" x2="178.5" y2="94" stroke="#666" stroke-width="0.9"/><line x1="144.5" y1="56.5" x2="222.5" y2="56.5" stroke="#666" stroke-width="0.9"/><rect x="144.5" y="17" width="78.0" height="77" fill="none" stroke="#666" stroke-width="0.8"/><rect x="233" y="17" width="78" height="77" fill="#fff"/><clipPath id="c233"><rect x="233" y="17" width="78" height="77"/></clipPath><line x1="239.2" y1="94" x2="239.2" y2="95.5" stroke="#777" stroke-width="0.5"/><text x="239.2" y="102.2" font-family="'Liberation Sans', sans-serif" font-size="4" fill="#555" text-anchor="middle">0</text><line x1="249.4" y1="94" x2="249.4" y2="95.5" stroke="#777" stroke-width="0.5"/><text x="249.4" y="102.2" font-family="'Liberation Sans', sans-serif" font-size="4" fill="#555" text-anchor="middle">10²</text><line x1="268.1" y1="94" x2="268.1" y2="95.5" stroke="#777" stroke-width="0.5"/><text x="268.1" y="102.2" font-family="'Liberation Sans', sans-serif" font-size="4" fill="#555" text-anchor="middle">10³</text><line x1="286.8" y1="94" x2="286.8" y2="95.5" stroke="#777" stroke-width="0.5"/><text x="286.8" y="102.2" font-family="'Liberation Sans', sans-serif" font-size="4" fill="#555" text-anchor="middle">10⁴</text><line x1="304.8" y1="94" x2="304.8" y2="95.5" stroke="#777" stroke-width="0.5"/><text x="304.8" y="102.2" font-family="'Liberation Sans', sans-serif" font-size="4" fill="#555" text-anchor="middle">10⁵</text><line x1="231.5" y1="85.6" x2="233" y2="85.6" stroke="#777" stroke-width="0.5"/><text x="230.5" y="87.0" font-family="'Liberation Sans', sans-serif" font-size="4" fill="#555" text-anchor="end">0</text><line x1="231.5" y1="78.6" x2="233" y2="78.6" stroke="#777" stroke-width="0.5"/><text x="230.5" y="80.0" font-family="'Liberation Sans', sans-serif" font-size="4" fill="#555" text-anchor="end">10²</text><line x1="231.5" y1="59.7" x2="233" y2="59.7" stroke="#777" stroke-width="0.5"/><text x="230.5" y="61.1" font-family="'Liberation Sans', sans-serif" font-size="4" fill="#555" text-anchor="end">10³</text><line x1="231.5" y1="42.8" x2="233" y2="42.8" stroke="#777" stroke-width="0.5"/><text x="230.5" y="44.2" font-family="'Liberation Sans', sans-serif" font-size="4" fill="#555" text-anchor="end">10⁴</text><line x1="231.5" y1="24.0" x2="233" y2="24.0" stroke="#777" stroke-width="0.5"/><text x="230.5" y="25.4" font-family="'Liberation Sans', sans-serif" font-size="4" fill="#555" text-anchor="end">10⁵</text><g clip-path="url(#c233)"><g fill="#7a7a7a" opacity="1"><circle cx="241.2" cy="84.2" r="0.38"/><circle cx="236.6" cy="91.7" r="0.38"/><circle cx="237.6" cy="92.2" r="0.38"/><circle cx="245.7" cy="71.7" r="0.38"/><circle cx="257.5" cy="84.5" r="0.38"/><circle cx="257.7" cy="87.2" r="0.38"/><circle cx="236.2" cy="83.4" r="0.38"/><circle cx="246.4" cy="89.3" r="0.38"/><circle cx="261.9" cy="91.2" r="0.38"/><circle cx="236.2" cy="90.6" r="0.38"/><circle cx="265.1" cy="92.6" r="0.38"/><circle cx="237.6" cy="73.3" r="0.38"/><circle cx="262.8" cy="89.1" r="0.38"/><circle cx="255.6" cy="89.5" r="0.38"/><circle cx="255.5" cy="75.5" r="0.38"/><circle cx="237.4" cy="70.5" r="0.38"/><circle cx="259.8" cy="73.3" r="0.38"/><circle cx="244.9" cy="79.0" r="0.38"/><circle cx="234.7" cy="74.7" r="0.38"/><circle cx="243.6" cy="86.6" r="0.38"/><circle cx="246.5" cy="76.3" r="0.38"/><circle cx="262.9" cy="84.1" r="0.38"/><circle cx="235.1" cy="78.7" r="0.38"/><circle cx="248.8" cy="88.1" r="0.38"/><circle cx="245.8" cy="86.3" r="0.38"/><circle cx="252.3" cy="73.6" r="0.38"/><circle cx="261.9" cy="72.4" r="0.38"/><circle cx="234.0" cy="73.3" r="0.38"/><circle cx="259.9" cy="93.4" r="0.38"/><circle cx="234.1" cy="80.8" r="0.38"/><circle cx="250.7" cy="88.7" r="0.38"/><circle cx="240.3" cy="80.9" r="0.38"/><circle cx="245.8" cy="89.6" r="0.38"/><circle cx="242.9" cy="92.5" r="0.38"/><circle cx="243.6" cy="73.6" r="0.38"/><circle cx="257.8" cy="81.0" r="0.38"/><circle cx="237.7" cy="84.5" r="0.38"/><circle cx="236.8" cy="88.5" r="0.38"/><circle cx="257.7" cy="88.5" r="0.38"/><circle cx="255.3" cy="77.2" r="0.38"/><circle cx="247.6" cy="78.3" r="0.38"/><circle cx="241.0" cy="74.8" r="0.38"/><circle cx="246.9" cy="91.0" r="0.38"/><circle cx="241.9" cy="80.0" r="0.38"/><circle cx="252.1" cy="87.6" r="0.38"/><circle cx="259.6" cy="84.8" r="0.38"/><circle cx="245.8" cy="76.5" r="0.38"/><circle cx="239.3" cy="89.9" r="0.38"/><circle cx="256.5" cy="87.3" r="0.38"/><circle cx="239.8" cy="79.4" r="0.38"/><circle cx="260.3" cy="83.1" r="0.38"/><circle cx="238.3" cy="80.0" r="0.38"/><circle cx="240.5" cy="75.8" r="0.38"/><circle cx="257.9" cy="89.9" r="0.38"/><circle cx="239.3" cy="72.1" r="0.38"/><circle cx="242.4" cy="76.5" r="0.38"/><circle cx="251.8" cy="72.2" r="0.38"/><circle cx="245.2" cy="72.9" r="0.38"/><circle cx="237.5" cy="93.0" r="0.38"/><circle cx="237.5" cy="78.0" r="0.38"/><circle cx="258.9" cy="79.3" r="0.38"/><circle cx="240.7" cy="84.6" r="0.38"/><circle cx="237.6" cy="73.4" r="0.38"/><circle cx="247.6" cy="88.6" r="0.38"/><circle cx="257.6" cy="81.0" r="0.38"/><circle cx="255.5" cy="80.0" r="0.38"/><circle cx="238.8" cy="83.7" r="0.38"/><circle cx="247.8" cy="87.3" r="0.38"/><circle cx="253.5" cy="87.5" r="0.38"/><circle cx="248.3" cy="73.9" r="0.38"/><circle cx="258.6" cy="90.9" r="0.38"/><circle cx="260.3" cy="86.2" r="0.38"/><circle cx="263.0" cy="85.7" r="0.38"/><circle cx="255.8" cy="79.8" r="0.38"/><circle cx="244.6" cy="84.3" r="0.38"/><circle cx="237.3" cy="78.9" r="0.38"/><circle cx="260.6" cy="86.5" r="0.38"/><circle cx="255.4" cy="74.5" r="0.38"/><circle cx="248.4" cy="79.8" r="0.38"/><circle cx="255.1" cy="78.6" r="0.38"/><circle cx="257.0" cy="92.2" r="0.38"/><circle cx="240.2" cy="85.0" r="0.38"/><circle cx="260.5" cy="78.1" r="0.38"/><circle cx="250.7" cy="93.3" r="0.38"/><circle cx="235.3" cy="82.1" r="0.38"/><circle cx="239.5" cy="88.3" r="0.38"/><circle cx="237.4" cy="82.9" r="0.38"/><circle cx="252.4" cy="86.6" r="0.38"/><circle cx="251.4" cy="84.6" r="0.38"/><circle cx="262.2" cy="81.6" r="0.38"/><circle cx="248.0" cy="92.6" r="0.38"/><circle cx="241.1" cy="85.8" r="0.38"/><circle cx="247.3" cy="87.8" r="0.38"/><circle cx="238.2" cy="93.6" r="0.38"/><circle cx="243.3" cy="78.4" r="0.38"/><circle cx="234.5" cy="78.9" r="0.38"/><circle cx="248.3" cy="86.2" r="0.38"/><circle cx="246.0" cy="74.9" r="0.38"/><circle cx="241.6" cy="87.3" r="0.38"/><circle cx="241.4" cy="88.8" r="0.38"/><circle cx="247.3" cy="73.5" r="0.38"/><circle cx="238.4" cy="88.2" r="0.38"/><circle cx="261.5" cy="84.5" r="0.38"/><circle cx="250.0" cy="82.6" r="0.38"/><circle cx="241.7" cy="93.1" r="0.38"/><circle cx="246.0" cy="84.6" r="0.38"/><circle cx="261.8" cy="89.2" r="0.38"/><circle cx="249.9" cy="75.7" r="0.38"/><circle cx="252.6" cy="71.3" r="0.38"/><circle cx="262.3" cy="77.2" r="0.38"/><circle cx="262.9" cy="75.0" r="0.38"/><circle cx="246.8" cy="74.6" r="0.38"/><circle cx="248.5" cy="72.8" r="0.38"/><circle cx="234.1" cy="86.8" r="0.38"/><circle cx="243.6" cy="74.4" r="0.38"/><circle cx="244.3" cy="80.5" r="0.38"/><circle cx="248.6" cy="84.6" r="0.38"/><circle cx="256.4" cy="77.4" r="0.38"/><circle cx="235.9" cy="89.5" r="0.38"/><circle cx="264.8" cy="88.4" r="0.38"/><circle cx="238.8" cy="89.6" r="0.38"/><circle cx="234.4" cy="92.7" r="0.38"/><circle cx="256.3" cy="74.5" r="0.38"/><circle cx="237.5" cy="71.7" r="0.38"/><circle cx="241.9" cy="88.2" r="0.38"/><circle cx="245.8" cy="72.0" r="0.38"/><circle cx="264.7" cy="88.6" r="0.38"/><circle cx="239.7" cy="91.2" r="0.38"/><circle cx="254.7" cy="88.3" r="0.38"/><circle cx="256.7" cy="91.2" r="0.38"/><circle cx="260.8" cy="89.8" r="0.38"/><circle cx="240.7" cy="86.0" r="0.38"/><circle cx="252.0" cy="87.3" r="0.38"/><circle cx="248.9" cy="90.9" r="0.38"/><circle cx="252.9" cy="74.9" r="0.38"/><circle cx="242.0" cy="71.6" r="0.38"/><circle cx="249.9" cy="71.8" r="0.38"/><circle cx="250.7" cy="81.0" r="0.38"/><circle cx="252.3" cy="90.4" r="0.38"/><circle cx="234.2" cy="89.9" r="0.38"/><circle cx="249.9" cy="82.6" r="0.38"/><circle cx="256.6" cy="89.9" r="0.38"/><circle cx="246.7" cy="78.9" r="0.38"/><circle cx="255.7" cy="84.5" r="0.38"/><circle cx="235.0" cy="83.9" r="0.38"/><circle cx="257.2" cy="92.2" r="0.38"/><circle cx="245.2" cy="93.5" r="0.38"/><circle cx="251.4" cy="80.6" r="0.38"/><circle cx="258.4" cy="84.3" r="0.38"/><circle cx="245.5" cy="90.4" r="0.38"/><circle cx="246.4" cy="80.3" r="0.38"/><circle cx="251.9" cy="88.0" r="0.38"/><circle cx="241.2" cy="79.3" r="0.38"/><circle cx="248.4" cy="82.4" r="0.38"/><circle cx="262.1" cy="75.6" r="0.38"/><circle cx="262.1" cy="78.5" r="0.38"/><circle cx="251.1" cy="75.1" r="0.38"/><circle cx="251.2" cy="93.3" r="0.38"/><circle cx="256.3" cy="88.6" r="0.38"/><circle cx="245.3" cy="76.2" r="0.38"/><circle cx="244.2" cy="83.2" r="0.38"/><circle cx="255.6" cy="88.4" r="0.38"/><circle cx="235.4" cy="86.8" r="0.38"/><circle cx="264.1" cy="82.2" r="0.38"/><circle cx="235.7" cy="75.8" r="0.38"/><circle cx="234.2" cy="72.9" r="0.38"/><circle cx="256.4" cy="88.5" r="0.38"/><circle cx="255.0" cy="84.3" r="0.38"/><circle cx="257.7" cy="83.5" r="0.38"/><circle cx="257.2" cy="73.5" r="0.38"/><circle cx="256.7" cy="79.9" r="0.38"/><circle cx="259.9" cy="70.6" r="0.38"/><circle cx="260.3" cy="91.8" r="0.38"/><circle cx="256.3" cy="77.6" r="0.38"/><circle cx="262.0" cy="88.5" r="0.38"/><circle cx="253.1" cy="74.7" r="0.38"/><circle cx="244.3" cy="79.0" r="0.38"/><circle cx="244.8" cy="79.2" r="0.38"/><circle cx="255.8" cy="92.3" r="0.38"/><circle cx="235.9" cy="82.8" r="0.38"/><circle cx="235.3" cy="71.1" r="0.38"/><circle cx="261.6" cy="83.0" r="0.38"/><circle cx="234.5" cy="78.1" r="0.38"/><circle cx="254.1" cy="92.4" r="0.38"/><circle cx="248.0" cy="70.7" r="0.38"/><circle cx="255.9" cy="73.5" r="0.38"/><circle cx="234.2" cy="85.8" r="0.38"/><circle cx="238.1" cy="93.1" r="0.38"/><circle cx="237.0" cy="90.6" r="0.38"/><circle cx="258.5" cy="74.3" r="0.38"/><circle cx="258.9" cy="72.9" r="0.38"/><circle cx="235.7" cy="88.1" r="0.38"/><circle cx="258.3" cy="90.2" r="0.38"/><circle cx="258.8" cy="70.2" r="0.38"/><circle cx="255.4" cy="86.4" r="0.38"/><circle cx="249.7" cy="92.2" r="0.38"/><circle cx="242.6" cy="93.1" r="0.38"/><circle cx="234.5" cy="84.9" r="0.38"/><circle cx="261.8" cy="70.1" r="0.38"/><circle cx="244.6" cy="87.0" r="0.38"/><circle cx="239.6" cy="90.4" r="0.38"/><circle cx="246.5" cy="82.9" r="0.38"/><circle cx="248.9" cy="85.6" r="0.38"/><circle cx="238.9" cy="88.7" r="0.38"/><circle cx="246.4" cy="84.8" r="0.38"/><circle cx="255.4" cy="78.9" r="0.38"/><circle cx="247.1" cy="88.4" r="0.38"/><circle cx="253.3" cy="75.6" r="0.38"/><circle cx="236.1" cy="93.3" r="0.38"/><circle cx="257.9" cy="89.5" r="0.38"/><circle cx="245.3" cy="83.8" r="0.38"/><circle cx="254.4" cy="76.0" r="0.38"/><circle cx="248.6" cy="91.1" r="0.38"/><circle cx="246.8" cy="85.8" r="0.38"/><circle cx="254.5" cy="91.3" r="0.38"/><circle cx="261.5" cy="75.4" r="0.38"/><circle cx="234.1" cy="74.8" r="0.38"/><circle cx="248.4" cy="83.3" r="0.38"/><circle cx="261.7" cy="91.1" r="0.38"/><circle cx="235.4" cy="89.7" r="0.38"/><circle cx="261.6" cy="90.5" r="0.38"/><circle cx="253.4" cy="75.1" r="0.38"/><circle cx="262.9" cy="89.0" r="0.38"/><circle cx="257.3" cy="91.8" r="0.38"/><circle cx="245.8" cy="70.2" r="0.38"/><circle cx="252.8" cy="88.7" r="0.38"/><circle cx="240.8" cy="87.5" r="0.38"/><circle cx="254.6" cy="85.6" r="0.38"/><circle cx="249.8" cy="73.4" r="0.38"/><circle cx="242.7" cy="87.5" r="0.38"/></g><g fill="#999" opacity="1"><circle cx="284.2" cy="43.4" r="0.35"/><circle cx="283.9" cy="39.7" r="0.35"/><circle cx="280.4" cy="50.4" r="0.35"/><circle cx="285.9" cy="44.3" r="0.35"/><circle cx="278.6" cy="45.4" r="0.35"/><circle cx="273.3" cy="47.2" r="0.35"/><circle cx="276.5" cy="45.0" r="0.35"/><circle cx="277.2" cy="44.3" r="0.35"/><circle cx="280.7" cy="41.5" r="0.35"/><circle cx="285.6" cy="43.8" r="0.35"/><circle cx="280.2" cy="40.2" r="0.35"/><circle cx="284.0" cy="42.8" r="0.35"/><circle cx="280.0" cy="49.9" r="0.35"/><circle cx="280.8" cy="42.4" r="0.35"/><circle cx="274.6" cy="45.0" r="0.35"/><circle cx="282.1" cy="42.3" r="0.35"/><circle cx="278.1" cy="38.6" r="0.35"/><circle cx="274.6" cy="41.6" r="0.35"/><circle cx="284.2" cy="47.4" r="0.35"/><circle cx="282.2" cy="40.8" r="0.35"/><circle cx="280.6" cy="48.1" r="0.35"/><circle cx="278.7" cy="38.7" r="0.35"/><circle cx="282.9" cy="39.1" r="0.35"/><circle cx="272.5" cy="43.2" r="0.35"/><circle cx="285.2" cy="46.1" r="0.35"/><circle cx="278.1" cy="41.4" r="0.35"/><circle cx="284.8" cy="43.6" r="0.35"/><circle cx="281.3" cy="38.3" r="0.35"/><circle cx="282.8" cy="44.9" r="0.35"/><circle cx="274.8" cy="42.6" r="0.35"/><circle cx="285.1" cy="41.4" r="0.35"/><circle cx="273.0" cy="43.9" r="0.35"/><circle cx="282.0" cy="39.4" r="0.35"/><circle cx="278.6" cy="40.6" r="0.35"/><circle cx="274.6" cy="39.2" r="0.35"/><circle cx="283.1" cy="40.7" r="0.35"/><circle cx="284.5" cy="41.5" r="0.35"/><circle cx="285.0" cy="44.4" r="0.35"/><circle cx="273.3" cy="43.0" r="0.35"/><circle cx="280.3" cy="38.2" r="0.35"/><circle cx="282.8" cy="39.1" r="0.35"/><circle cx="281.0" cy="43.9" r="0.35"/><circle cx="274.9" cy="39.3" r="0.35"/><circle cx="281.0" cy="47.3" r="0.35"/><circle cx="284.6" cy="45.3" r="0.35"/></g><g fill="#aaa" opacity="1"><circle cx="276.7" cy="59.4" r="0.3"/><circle cx="299.5" cy="72.1" r="0.3"/><circle cx="299.0" cy="59.0" r="0.3"/><circle cx="302.9" cy="69.4" r="0.3"/><circle cx="304.2" cy="89.0" r="0.3"/><circle cx="289.2" cy="57.6" r="0.3"/><circle cx="307.1" cy="74.6" r="0.3"/><circle cx="305.5" cy="66.9" r="0.3"/><circle cx="276.0" cy="87.8" r="0.3"/><circle cx="283.8" cy="63.0" r="0.3"/><circle cx="284.0" cy="79.0" r="0.3"/><circle cx="268.2" cy="76.2" r="0.3"/><circle cx="287.2" cy="76.1" r="0.3"/><circle cx="273.2" cy="83.4" r="0.3"/><circle cx="303.1" cy="89.0" r="0.3"/><circle cx="281.8" cy="83.3" r="0.3"/><circle cx="284.4" cy="84.8" r="0.3"/><circle cx="270.6" cy="89.3" r="0.3"/><circle cx="309.0" cy="75.3" r="0.3"/><circle cx="290.1" cy="76.6" r="0.3"/><circle cx="291.1" cy="57.8" r="0.3"/><circle cx="309.6" cy="65.3" r="0.3"/><circle cx="275.8" cy="60.8" r="0.3"/><circle cx="278.8" cy="87.2" r="0.3"/><circle cx="269.3" cy="60.6" r="0.3"/><circle cx="298.1" cy="64.2" r="0.3"/><circle cx="268.8" cy="79.2" r="0.3"/><circle cx="292.8" cy="76.3" r="0.3"/><circle cx="298.2" cy="60.8" r="0.3"/><circle cx="305.4" cy="83.5" r="0.3"/></g><path d="M231.0,31.8 L256.1,31.8 C261.8,31.8 264.9,35.4 264.9,39.8 C264.9,44.2 261.8,47.8 256.1,47.8 L231.0,47.8 Z" fill="#9c9c9c"/><g fill="none" stroke="#555" stroke-width="0.55"><path d="M231.0,31.8 L256.1,31.8 C261.8,31.8 264.9,35.4 264.9,39.8 C264.9,44.2 261.8,47.8 256.1,47.8 L231.0,47.8"/><path d="M231.0,32.9 L254.4,32.9 C259.3,32.9 262.0,36.0 262.0,39.8 C262.0,43.6 259.3,46.7 254.4,46.7 L231.0,46.7"/><path d="M231.0,34.0 L252.8,34.0 C256.9,34.0 259.1,36.6 259.1,39.8 C259.1,43.0 256.9,45.6 252.8,45.6 L231.0,45.6"/><path d="M231.0,35.0 L251.3,35.0 C254.8,35.0 256.6,37.2 256.6,39.8 C256.6,42.4 254.8,44.6 251.3,44.6 L231.0,44.6"/><path d="M231.0,36.0 L249.9,36.0 C252.6,36.0 254.1,37.7 254.1,39.8 C254.1,41.9 252.6,43.6 249.9,43.6 L231.0,43.6"/></g><g fill="none" stroke="#eee" stroke-width="0.8"><ellipse cx="241" cy="40" rx="2.4" ry="1.4"/><ellipse cx="247" cy="40" rx="2.4" ry="1.4"/><ellipse cx="253" cy="40" rx="2.4" ry="1.4"/></g><path d="M266.7,60 C266.7,55 271,53 279,53 C287,53 291.5,56 291.5,63 C291.5,72 289,80 283,82.3 C278,82 269,72 266.7,60 Z" fill="#949494" stroke="#555" stroke-width="0.6"/><path d="M270,61 C270,57.5 273.5,56 279,56 C285.5,56 288.5,58.5 288.5,64 C288.5,71 286.5,77 282.5,78.5 C278.5,78 271.5,70 270,61 Z" fill="#808080" stroke="#5a5a5a" stroke-width="0.5"/><path d="M273,62.5 C273,60 275.5,59 279,59 C283.5,59 285.5,61 285.5,65 C285.5,70 284,74 281.5,75 C279,74.5 274,68.5 273,62.5 Z" fill="#6e6e6e"/><circle cx="281" cy="64" r="0.9" fill="#ddd"/><g fill="none" stroke="#5a5a5a" stroke-width="0.6"><path d="M233,58.5 C236,61 239,62.5 244,62.9 C250,62.5 256,60.5 261,60 C264,59.5 266,58.5 268,57.5"/><path d="M234.3,60.2 C233,63 233.5,68 237,71.1 C239,69 241,68 244,67.5 C248,67 252,68.5 256,69.8 C259,70.5 261,69 262,68.5 C264,72 266,76 268,80 C270,85 272,90 274,95"/><path d="M261.6,62.9 C263.5,64.5 266,67 268.2,70.6 C270,74 272,78 275,82"/></g></g><rect x="234.3" y="17.5" width="32.7" height="8.3" fill="#fff"/><text x="235.3" y="24.8" font-family="'Liberation Sans', sans-serif" font-weight="bold" font-size="9.2" text-anchor="start">16.14%</text><rect x="283.1" y="17.5" width="27.6" height="8.3" fill="#fff"/><text x="309.7" y="24.8" font-family="'Liberation Sans', sans-serif" font-weight="bold" font-size="9.2" text-anchor="end">1.21%</text><rect x="234.3" y="84.7" width="27.6" height="8.3" fill="#fff"/><text x="235.3" y="92" font-family="'Liberation Sans', sans-serif" font-weight="bold" font-size="9.2" text-anchor="start">5.71%</text><rect x="278.0" y="84.7" width="32.7" height="8.3" fill="#fff"/><text x="309.7" y="92" font-family="'Liberation Sans', sans-serif" font-weight="bold" font-size="9.2" text-anchor="end">76.93%</text><line x1="267.5" y1="17" x2="267.5" y2="94" stroke="#666" stroke-width="0.9"/><line x1="233" y1="56.5" x2="311" y2="56.5" stroke="#666" stroke-width="0.9"/><rect x="233" y="17" width="78" height="77" fill="none" stroke="#666" stroke-width="0.8"/><rect x="49.8" y="130.2" width="77.4" height="76.4" fill="#fff"/><clipPath id="d49"><rect x="49.8" y="130.2" width="77.4" height="76.4"/></clipPath><line x1="58.3" y1="206.6" x2="58.3" y2="208.1" stroke="#777" stroke-width="0.5"/><text x="58.3" y="216.0" font-family="'Liberation Sans', sans-serif" font-size="4.4" fill="#555" text-anchor="middle">0</text><line x1="70.7" y1="206.6" x2="70.7" y2="208.1" stroke="#777" stroke-width="0.5"/><line x1="85.9" y1="206.6" x2="85.9" y2="208.1" stroke="#777" stroke-width="0.5"/><text x="85.9" y="216.0" font-family="'Liberation Sans', sans-serif" font-size="4.4" fill="#555" text-anchor="middle">10³</text><line x1="103.2" y1="206.6" x2="103.2" y2="208.1" stroke="#777" stroke-width="0.5"/><text x="103.2" y="216.0" font-family="'Liberation Sans', sans-serif" font-size="4.4" fill="#555" text-anchor="middle">10⁴</text><line x1="120.6" y1="206.6" x2="120.6" y2="208.1" stroke="#777" stroke-width="0.5"/><text x="120.6" y="216.0" font-family="'Liberation Sans', sans-serif" font-size="4.4" fill="#555" text-anchor="middle">10⁵</text><line x1="48.3" y1="200.6" x2="49.8" y2="200.6" stroke="#777" stroke-width="0.5"/><text x="47.3" y="202.0" font-family="'Liberation Sans', sans-serif" font-size="4" fill="#555" text-anchor="end">0</text><line x1="48.3" y1="190.0" x2="49.8" y2="190.0" stroke="#777" stroke-width="0.5"/><text x="47.3" y="191.4" font-family="'Liberation Sans', sans-serif" font-size="4" fill="#555" text-anchor="end">10²</text><line x1="48.3" y1="171.7" x2="49.8" y2="171.7" stroke="#777" stroke-width="0.5"/><text x="47.3" y="173.1" font-family="'Liberation Sans', sans-serif" font-size="4" fill="#555" text-anchor="end">10³</text><line x1="48.3" y1="153.3" x2="49.8" y2="153.3" stroke="#777" stroke-width="0.5"/><text x="47.3" y="154.7" font-family="'Liberation Sans', sans-serif" font-size="4" fill="#555" text-anchor="end">10⁴</text><line x1="48.3" y1="134.9" x2="49.8" y2="134.9" stroke="#777" stroke-width="0.5"/><text x="47.3" y="136.3" font-family="'Liberation Sans', sans-serif" font-size="4" fill="#555" text-anchor="end">10⁵</text><g clip-path="url(#d49)"><g fill="#555" opacity="0.75"><circle cx="51.5" cy="162.3" r="0.36"/><circle cx="59.5" cy="162.2" r="0.36"/><circle cx="63.8" cy="163.0" r="0.36"/><circle cx="55.0" cy="185.2" r="0.36"/><circle cx="75.4" cy="164.4" r="0.36"/><circle cx="63.2" cy="177.4" r="0.36"/><circle cx="63.5" cy="204.0" r="0.36"/><circle cx="58.2" cy="173.1" r="0.36"/><circle cx="64.8" cy="206.0" r="0.36"/><circle cx="51.8" cy="182.4" r="0.36"/><circle cx="58.5" cy="177.5" r="0.36"/><circle cx="68.0" cy="159.5" r="0.36"/><circle cx="64.7" cy="181.7" r="0.36"/><circle cx="50.7" cy="163.1" r="0.36"/><circle cx="71.8" cy="169.6" r="0.36"/><circle cx="73.1" cy="169.9" r="0.36"/><circle cx="71.1" cy="168.8" r="0.36"/><circle cx="82.3" cy="170.7" r="0.36"/><circle cx="60.4" cy="189.0" r="0.36"/><circle cx="54.1" cy="186.3" r="0.36"/><circle cx="59.1" cy="179.8" r="0.36"/><circle cx="68.2" cy="163.6" r="0.36"/><circle cx="54.2" cy="162.7" r="0.36"/><circle cx="60.0" cy="176.7" r="0.36"/><circle cx="59.8" cy="168.4" r="0.36"/><circle cx="53.0" cy="183.9" r="0.36"/><circle cx="56.8" cy="192.2" r="0.36"/><circle cx="65.7" cy="183.9" r="0.36"/><circle cx="60.6" cy="168.4" r="0.36"/><circle cx="57.5" cy="182.1" r="0.36"/><circle cx="63.0" cy="185.9" r="0.36"/><circle cx="50.4" cy="174.0" r="0.36"/><circle cx="79.3" cy="168.2" r="0.36"/><circle cx="59.7" cy="206.4" r="0.36"/><circle cx="60.0" cy="195.4" r="0.36"/><circle cx="55.4" cy="159.4" r="0.36"/><circle cx="52.1" cy="175.8" r="0.36"/><circle cx="65.0" cy="193.5" r="0.36"/><circle cx="53.7" cy="167.5" r="0.36"/><circle cx="55.3" cy="173.2" r="0.36"/><circle cx="62.0" cy="190.4" r="0.36"/><circle cx="81.1" cy="162.5" r="0.36"/><circle cx="65.4" cy="179.4" r="0.36"/><circle cx="74.6" cy="170.9" r="0.36"/><circle cx="63.3" cy="184.3" r="0.36"/><circle cx="63.1" cy="172.4" r="0.36"/><circle cx="56.3" cy="171.5" r="0.36"/><circle cx="54.9" cy="185.3" r="0.36"/><circle cx="69.8" cy="160.5" r="0.36"/><circle cx="82.6" cy="166.4" r="0.36"/><circle cx="64.5" cy="202.4" r="0.36"/><circle cx="50.4" cy="158.4" r="0.36"/><circle cx="62.2" cy="186.3" r="0.36"/><circle cx="61.9" cy="204.3" r="0.36"/><circle cx="53.4" cy="175.1" r="0.36"/><circle cx="63.6" cy="184.6" r="0.36"/><circle cx="65.0" cy="187.9" r="0.36"/><circle cx="55.8" cy="172.2" r="0.36"/><circle cx="67.4" cy="161.6" r="0.36"/><circle cx="55.3" cy="170.8" r="0.36"/><circle cx="56.4" cy="165.3" r="0.36"/><circle cx="62.0" cy="206.7" r="0.36"/><circle cx="71.6" cy="158.2" r="0.36"/><circle cx="64.0" cy="196.2" r="0.36"/><circle cx="60.4" cy="191.2" r="0.36"/><circle cx="50.1" cy="171.5" r="0.36"/><circle cx="72.7" cy="166.0" r="0.36"/><circle cx="59.0" cy="189.0" r="0.36"/><circle cx="54.1" cy="164.0" r="0.36"/><circle cx="75.8" cy="161.4" r="0.36"/><circle cx="53.4" cy="164.7" r="0.36"/><circle cx="55.8" cy="169.6" r="0.36"/><circle cx="53.4" cy="202.1" r="0.36"/><circle cx="65.3" cy="175.7" r="0.36"/><circle cx="51.9" cy="201.4" r="0.36"/><circle cx="64.9" cy="187.6" r="0.36"/><circle cx="58.5" cy="158.2" r="0.36"/><circle cx="60.7" cy="201.8" r="0.36"/><circle cx="58.3" cy="175.9" r="0.36"/><circle cx="74.4" cy="167.3" r="0.36"/><circle cx="60.5" cy="200.6" r="0.36"/><circle cx="58.3" cy="164.8" r="0.36"/><circle cx="62.2" cy="165.5" r="0.36"/><circle cx="83.0" cy="170.8" r="0.36"/><circle cx="69.1" cy="161.9" r="0.36"/><circle cx="63.7" cy="159.3" r="0.36"/><circle cx="54.2" cy="198.1" r="0.36"/><circle cx="61.9" cy="168.5" r="0.36"/><circle cx="56.5" cy="170.5" r="0.36"/><circle cx="55.3" cy="192.0" r="0.36"/><circle cx="53.1" cy="169.8" r="0.36"/><circle cx="78.4" cy="162.5" r="0.36"/><circle cx="65.1" cy="198.7" r="0.36"/><circle cx="77.4" cy="164.1" r="0.36"/><circle cx="62.0" cy="192.8" r="0.36"/><circle cx="62.8" cy="204.9" r="0.36"/><circle cx="57.1" cy="204.5" r="0.36"/><circle cx="67.2" cy="167.6" r="0.36"/><circle cx="65.4" cy="162.7" r="0.36"/><circle cx="74.0" cy="169.3" r="0.36"/><circle cx="62.5" cy="168.6" r="0.36"/><circle cx="70.7" cy="166.8" r="0.36"/><circle cx="79.7" cy="162.3" r="0.36"/><circle cx="59.2" cy="195.4" r="0.36"/><circle cx="63.1" cy="189.5" r="0.36"/><circle cx="63.3" cy="160.4" r="0.36"/><circle cx="56.0" cy="199.4" r="0.36"/><circle cx="60.9" cy="189.8" r="0.36"/><circle cx="53.7" cy="184.7" r="0.36"/><circle cx="62.3" cy="181.5" r="0.36"/><circle cx="60.1" cy="159.4" r="0.36"/><circle cx="60.6" cy="167.5" r="0.36"/><circle cx="54.3" cy="192.6" r="0.36"/><circle cx="59.6" cy="176.6" r="0.36"/><circle cx="54.5" cy="170.1" r="0.36"/><circle cx="51.0" cy="190.7" r="0.36"/><circle cx="64.0" cy="189.6" r="0.36"/><circle cx="73.8" cy="168.7" r="0.36"/><circle cx="71.4" cy="165.3" r="0.36"/><circle cx="53.9" cy="202.5" r="0.36"/><circle cx="51.4" cy="158.0" r="0.36"/><circle cx="55.5" cy="166.1" r="0.36"/><circle cx="60.3" cy="175.4" r="0.36"/><circle cx="51.3" cy="171.9" r="0.36"/><circle cx="71.7" cy="165.2" r="0.36"/><circle cx="74.4" cy="169.0" r="0.36"/><circle cx="64.8" cy="190.9" r="0.36"/><circle cx="59.7" cy="158.2" r="0.36"/><circle cx="51.6" cy="168.5" r="0.36"/><circle cx="53.8" cy="196.4" r="0.36"/><circle cx="57.1" cy="202.6" r="0.36"/><circle cx="75.5" cy="160.4" r="0.36"/><circle cx="59.6" cy="160.6" r="0.36"/><circle cx="51.8" cy="191.6" r="0.36"/><circle cx="64.6" cy="182.1" r="0.36"/><circle cx="81.6" cy="162.5" r="0.36"/><circle cx="75.9" cy="158.2" r="0.36"/><circle cx="58.9" cy="183.9" r="0.36"/><circle cx="68.5" cy="168.7" r="0.36"/><circle cx="52.0" cy="174.2" r="0.36"/><circle cx="64.0" cy="166.3" r="0.36"/><circle cx="60.6" cy="163.0" r="0.36"/><circle cx="58.1" cy="168.3" r="0.36"/><circle cx="60.2" cy="201.1" r="0.36"/><circle cx="54.8" cy="184.7" r="0.36"/><circle cx="61.3" cy="197.6" r="0.36"/><circle cx="55.8" cy="190.0" r="0.36"/><circle cx="53.9" cy="170.8" r="0.36"/><circle cx="62.3" cy="166.5" r="0.36"/><circle cx="52.1" cy="170.3" r="0.36"/><circle cx="56.7" cy="191.8" r="0.36"/><circle cx="65.2" cy="161.8" r="0.36"/><circle cx="61.0" cy="179.9" r="0.36"/><circle cx="62.3" cy="164.6" r="0.36"/><circle cx="52.9" cy="192.6" r="0.36"/><circle cx="53.7" cy="180.9" r="0.36"/><circle cx="64.8" cy="165.7" r="0.36"/><circle cx="72.2" cy="168.8" r="0.36"/><circle cx="58.4" cy="163.1" r="0.36"/><circle cx="50.9" cy="195.5" r="0.36"/><circle cx="56.3" cy="188.5" r="0.36"/><circle cx="55.7" cy="196.0" r="0.36"/><circle cx="61.1" cy="165.4" r="0.36"/><circle cx="62.5" cy="184.1" r="0.36"/><circle cx="62.6" cy="198.4" r="0.36"/><circle cx="58.1" cy="158.1" r="0.36"/><circle cx="55.4" cy="171.3" r="0.36"/><circle cx="69.8" cy="160.1" r="0.36"/><circle cx="73.4" cy="164.3" r="0.36"/><circle cx="65.1" cy="205.5" r="0.36"/><circle cx="53.0" cy="158.0" r="0.36"/><circle cx="64.9" cy="165.7" r="0.36"/><circle cx="59.6" cy="189.7" r="0.36"/><circle cx="61.5" cy="178.4" r="0.36"/><circle cx="80.7" cy="164.4" r="0.36"/><circle cx="60.1" cy="178.6" r="0.36"/><circle cx="56.6" cy="160.3" r="0.36"/><circle cx="61.0" cy="179.5" r="0.36"/><circle cx="77.6" cy="159.1" r="0.36"/><circle cx="60.1" cy="185.1" r="0.36"/><circle cx="61.7" cy="201.1" r="0.36"/><circle cx="50.9" cy="165.6" r="0.36"/><circle cx="52.9" cy="189.7" r="0.36"/><circle cx="62.6" cy="185.6" r="0.36"/><circle cx="64.2" cy="183.0" r="0.36"/><circle cx="53.9" cy="165.2" r="0.36"/><circle cx="53.8" cy="200.0" r="0.36"/><circle cx="58.6" cy="160.8" r="0.36"/><circle cx="68.0" cy="168.8" r="0.36"/><circle cx="57.7" cy="185.2" r="0.36"/><circle cx="53.8" cy="182.2" r="0.36"/><circle cx="70.0" cy="160.1" r="0.36"/><circle cx="63.9" cy="159.7" r="0.36"/><circle cx="64.9" cy="200.0" r="0.36"/><circle cx="75.7" cy="161.8" r="0.36"/><circle cx="53.5" cy="198.3" r="0.36"/><circle cx="63.3" cy="164.7" r="0.36"/><circle cx="76.3" cy="163.0" r="0.36"/><circle cx="76.4" cy="158.9" r="0.36"/><circle cx="58.1" cy="175.0" r="0.36"/><circle cx="50.5" cy="186.3" r="0.36"/><circle cx="57.2" cy="171.3" r="0.36"/><circle cx="55.7" cy="194.0" r="0.36"/><circle cx="61.6" cy="194.9" r="0.36"/><circle cx="54.2" cy="175.0" r="0.36"/><circle cx="74.5" cy="158.2" r="0.36"/><circle cx="70.5" cy="161.1" r="0.36"/><circle cx="53.8" cy="203.2" r="0.36"/><circle cx="73.0" cy="169.0" r="0.36"/><circle cx="56.6" cy="178.8" r="0.36"/><circle cx="53.8" cy="196.8" r="0.36"/><circle cx="56.3" cy="184.3" r="0.36"/><circle cx="59.9" cy="191.0" r="0.36"/><circle cx="62.9" cy="163.4" r="0.36"/><circle cx="61.6" cy="163.7" r="0.36"/><circle cx="56.2" cy="197.7" r="0.36"/><circle cx="66.2" cy="164.1" r="0.36"/><circle cx="52.6" cy="172.8" r="0.36"/><circle cx="57.4" cy="201.6" r="0.36"/><circle cx="70.0" cy="158.2" r="0.36"/><circle cx="55.8" cy="174.4" r="0.36"/><circle cx="65.9" cy="185.4" r="0.36"/><circle cx="63.2" cy="174.0" r="0.36"/><circle cx="50.2" cy="185.5" r="0.36"/><circle cx="65.6" cy="206.3" r="0.36"/><circle cx="51.5" cy="163.4" r="0.36"/><circle cx="72.8" cy="169.9" r="0.36"/><circle cx="59.3" cy="181.5" r="0.36"/><circle cx="58.9" cy="185.0" r="0.36"/><circle cx="62.3" cy="170.4" r="0.36"/><circle cx="60.3" cy="194.9" r="0.36"/><circle cx="52.1" cy="173.2" r="0.36"/><circle cx="61.0" cy="206.4" r="0.36"/><circle cx="58.3" cy="168.0" r="0.36"/><circle cx="61.9" cy="162.9" r="0.36"/><circle cx="50.2" cy="200.4" r="0.36"/><circle cx="65.4" cy="178.7" r="0.36"/><circle cx="55.7" cy="159.4" r="0.36"/><circle cx="60.3" cy="171.7" r="0.36"/><circle cx="52.7" cy="165.1" r="0.36"/><circle cx="62.1" cy="195.5" r="0.36"/><circle cx="64.6" cy="200.3" r="0.36"/><circle cx="52.3" cy="180.7" r="0.36"/><circle cx="80.6" cy="170.1" r="0.36"/><circle cx="55.6" cy="169.7" r="0.36"/><circle cx="73.9" cy="167.1" r="0.36"/><circle cx="63.6" cy="166.2" r="0.36"/><circle cx="72.0" cy="166.0" r="0.36"/><circle cx="70.4" cy="160.0" r="0.36"/><circle cx="61.6" cy="163.0" r="0.36"/><circle cx="56.4" cy="183.4" r="0.36"/><circle cx="81.4" cy="166.8" r="0.36"/><circle cx="61.1" cy="194.2" r="0.36"/><circle cx="52.0" cy="177.1" r="0.36"/><circle cx="51.5" cy="187.9" r="0.36"/><circle cx="61.4" cy="181.2" r="0.36"/><circle cx="70.3" cy="169.1" r="0.36"/><circle cx="83.6" cy="158.9" r="0.36"/><circle cx="61.2" cy="160.8" r="0.36"/><circle cx="55.3" cy="163.3" r="0.36"/><circle cx="76.1" cy="160.6" r="0.36"/><circle cx="75.2" cy="169.1" r="0.36"/><circle cx="65.4" cy="170.2" r="0.36"/><circle cx="83.6" cy="167.6" r="0.36"/><circle cx="75.7" cy="160.6" r="0.36"/><circle cx="51.0" cy="162.8" r="0.36"/><circle cx="52.0" cy="181.6" r="0.36"/><circle cx="68.9" cy="165.3" r="0.36"/><circle cx="55.1" cy="165.0" r="0.36"/><circle cx="76.5" cy="168.4" r="0.36"/><circle cx="61.0" cy="202.1" r="0.36"/><circle cx="53.7" cy="193.4" r="0.36"/><circle cx="52.2" cy="188.9" r="0.36"/><circle cx="63.7" cy="200.1" r="0.36"/><circle cx="52.0" cy="184.8" r="0.36"/><circle cx="63.9" cy="202.9" r="0.36"/><circle cx="57.6" cy="168.8" r="0.36"/><circle cx="58.9" cy="178.1" r="0.36"/><circle cx="57.9" cy="166.4" r="0.36"/><circle cx="60.1" cy="206.7" r="0.36"/><circle cx="57.4" cy="185.0" r="0.36"/><circle cx="55.3" cy="200.0" r="0.36"/><circle cx="79.6" cy="169.6" r="0.36"/><circle cx="59.6" cy="172.9" r="0.36"/><circle cx="55.5" cy="190.8" r="0.36"/><circle cx="57.1" cy="201.1" r="0.36"/><circle cx="62.3" cy="195.8" r="0.36"/><circle cx="79.4" cy="165.3" r="0.36"/><circle cx="53.8" cy="205.7" r="0.36"/><circle cx="50.3" cy="202.5" r="0.36"/><circle cx="55.1" cy="193.5" r="0.36"/><circle cx="53.3" cy="164.6" r="0.36"/><circle cx="73.2" cy="160.6" r="0.36"/><circle cx="61.5" cy="202.8" r="0.36"/><circle cx="58.0" cy="196.4" r="0.36"/><circle cx="67.2" cy="167.8" r="0.36"/><circle cx="64.6" cy="161.3" r="0.36"/><circle cx="50.7" cy="206.5" r="0.36"/><circle cx="60.8" cy="200.8" r="0.36"/><circle cx="54.1" cy="180.9" r="0.36"/></g><g fill="#888" opacity="1"><circle cx="89.7" cy="182.4" r="0.33"/><circle cx="91.5" cy="193.5" r="0.33"/><circle cx="90.2" cy="195.7" r="0.33"/><circle cx="105.0" cy="168.8" r="0.33"/><circle cx="98.9" cy="185.3" r="0.33"/><circle cx="122.6" cy="179.0" r="0.33"/><circle cx="93.0" cy="205.6" r="0.33"/><circle cx="121.1" cy="195.5" r="0.33"/><circle cx="95.5" cy="171.6" r="0.33"/><circle cx="95.1" cy="167.0" r="0.33"/><circle cx="85.8" cy="185.9" r="0.33"/><circle cx="101.1" cy="187.9" r="0.33"/><circle cx="99.2" cy="164.5" r="0.33"/><circle cx="112.9" cy="192.1" r="0.33"/><circle cx="106.8" cy="187.6" r="0.33"/><circle cx="113.0" cy="206.2" r="0.33"/><circle cx="120.7" cy="194.9" r="0.33"/><circle cx="100.8" cy="177.7" r="0.33"/><circle cx="101.6" cy="205.8" r="0.33"/><circle cx="100.3" cy="180.6" r="0.33"/><circle cx="101.2" cy="170.2" r="0.33"/><circle cx="125.9" cy="164.2" r="0.33"/><circle cx="109.5" cy="203.8" r="0.33"/><circle cx="94.7" cy="190.3" r="0.33"/><circle cx="99.8" cy="174.4" r="0.33"/><circle cx="92.3" cy="169.0" r="0.33"/><circle cx="119.4" cy="197.7" r="0.33"/><circle cx="122.2" cy="166.1" r="0.33"/><circle cx="113.2" cy="177.9" r="0.33"/><circle cx="111.1" cy="187.6" r="0.33"/><circle cx="97.3" cy="205.8" r="0.33"/><circle cx="84.0" cy="196.1" r="0.33"/><circle cx="119.8" cy="185.9" r="0.33"/><circle cx="108.9" cy="206.8" r="0.33"/><circle cx="93.8" cy="191.1" r="0.33"/><circle cx="115.2" cy="180.3" r="0.33"/><circle cx="113.9" cy="180.9" r="0.33"/><circle cx="106.1" cy="190.4" r="0.33"/><circle cx="112.4" cy="177.9" r="0.33"/><circle cx="110.4" cy="187.4" r="0.33"/><circle cx="93.4" cy="190.3" r="0.33"/><circle cx="95.1" cy="203.1" r="0.33"/><circle cx="103.9" cy="195.0" r="0.33"/><circle cx="105.9" cy="184.5" r="0.33"/><circle cx="93.3" cy="170.1" r="0.33"/><circle cx="122.9" cy="186.7" r="0.33"/><circle cx="106.0" cy="186.7" r="0.33"/><circle cx="118.2" cy="174.3" r="0.33"/><circle cx="91.2" cy="199.3" r="0.33"/><circle cx="103.3" cy="191.5" r="0.33"/><circle cx="118.8" cy="202.4" r="0.33"/><circle cx="120.4" cy="165.9" r="0.33"/><circle cx="100.0" cy="199.8" r="0.33"/><circle cx="118.3" cy="169.3" r="0.33"/><circle cx="90.5" cy="174.8" r="0.33"/><circle cx="88.3" cy="179.3" r="0.33"/><circle cx="117.7" cy="186.4" r="0.33"/><circle cx="103.0" cy="167.8" r="0.33"/><circle cx="100.6" cy="206.9" r="0.33"/><circle cx="113.2" cy="183.3" r="0.33"/><circle cx="104.1" cy="198.3" r="0.33"/><circle cx="115.9" cy="170.4" r="0.33"/><circle cx="112.6" cy="179.8" r="0.33"/><circle cx="105.9" cy="174.2" r="0.33"/><circle cx="99.6" cy="178.6" r="0.33"/><circle cx="100.0" cy="164.8" r="0.33"/><circle cx="92.4" cy="188.5" r="0.33"/><circle cx="86.4" cy="171.7" r="0.33"/><circle cx="114.2" cy="175.8" r="0.33"/><circle cx="97.6" cy="174.4" r="0.33"/><circle cx="119.0" cy="167.9" r="0.33"/><circle cx="110.7" cy="200.9" r="0.33"/><circle cx="92.5" cy="182.2" r="0.33"/><circle cx="117.3" cy="190.6" r="0.33"/><circle cx="99.6" cy="165.9" r="0.33"/><circle cx="102.6" cy="179.8" r="0.33"/><circle cx="113.9" cy="176.7" r="0.33"/><circle cx="101.1" cy="191.9" r="0.33"/><circle cx="118.1" cy="179.2" r="0.33"/><circle cx="100.2" cy="188.9" r="0.33"/></g><g fill="#555" opacity="1"><circle cx="63.1" cy="156.6" r="0.35"/><circle cx="61.9" cy="147.1" r="0.35"/><circle cx="73.4" cy="152.1" r="0.35"/><circle cx="67.2" cy="153.9" r="0.35"/><circle cx="53.7" cy="155.5" r="0.35"/><circle cx="65.5" cy="153.4" r="0.35"/><circle cx="75.7" cy="152.6" r="0.35"/><circle cx="65.8" cy="160.2" r="0.35"/><circle cx="64.9" cy="153.9" r="0.35"/><circle cx="66.8" cy="159.2" r="0.35"/><circle cx="71.1" cy="157.8" r="0.35"/><circle cx="63.8" cy="146.6" r="0.35"/><circle cx="71.4" cy="154.9" r="0.35"/><circle cx="73.8" cy="158.3" r="0.35"/><circle cx="56.2" cy="149.5" r="0.35"/><circle cx="73.3" cy="155.0" r="0.35"/><circle cx="54.5" cy="156.9" r="0.35"/><circle cx="72.2" cy="153.7" r="0.35"/><circle cx="54.5" cy="157.1" r="0.35"/><circle cx="64.3" cy="155.3" r="0.35"/><circle cx="62.0" cy="154.3" r="0.35"/><circle cx="60.4" cy="150.2" r="0.35"/><circle cx="61.5" cy="150.1" r="0.35"/><circle cx="76.2" cy="154.9" r="0.35"/><circle cx="66.8" cy="152.7" r="0.35"/><circle cx="54.4" cy="150.9" r="0.35"/><circle cx="76.1" cy="150.1" r="0.35"/><circle cx="67.5" cy="152.0" r="0.35"/><circle cx="65.5" cy="153.8" r="0.35"/><circle cx="68.8" cy="151.9" r="0.35"/><circle cx="74.6" cy="149.2" r="0.35"/><circle cx="77.8" cy="154.9" r="0.35"/><circle cx="54.4" cy="151.0" r="0.35"/><circle cx="67.4" cy="152.5" r="0.35"/><circle cx="68.3" cy="151.2" r="0.35"/><circle cx="60.4" cy="158.7" r="0.35"/><circle cx="60.9" cy="157.4" r="0.35"/><circle cx="74.7" cy="155.5" r="0.35"/><circle cx="65.3" cy="161.0" r="0.35"/><circle cx="65.0" cy="160.0" r="0.35"/><circle cx="54.6" cy="152.9" r="0.35"/><circle cx="70.3" cy="146.8" r="0.35"/><circle cx="69.1" cy="148.9" r="0.35"/><circle cx="77.9" cy="155.0" r="0.35"/><circle cx="74.6" cy="154.0" r="0.35"/><circle cx="71.2" cy="156.8" r="0.35"/><circle cx="61.0" cy="149.4" r="0.35"/><circle cx="64.2" cy="156.5" r="0.35"/><circle cx="60.0" cy="160.5" r="0.35"/><circle cx="71.5" cy="148.5" r="0.35"/><circle cx="54.5" cy="157.1" r="0.35"/><circle cx="60.9" cy="149.7" r="0.35"/><circle cx="68.7" cy="151.1" r="0.35"/><circle cx="68.1" cy="148.5" r="0.35"/><circle cx="77.6" cy="151.2" r="0.35"/><circle cx="63.6" cy="146.5" r="0.35"/><circle cx="63.3" cy="156.3" r="0.35"/><circle cx="59.0" cy="154.7" r="0.35"/><circle cx="55.5" cy="153.4" r="0.35"/><circle cx="72.7" cy="152.9" r="0.35"/><circle cx="71.3" cy="147.8" r="0.35"/><circle cx="78.4" cy="154.4" r="0.35"/><circle cx="60.9" cy="151.6" r="0.35"/><circle cx="73.3" cy="153.9" r="0.35"/><circle cx="66.1" cy="159.8" r="0.35"/><circle cx="69.1" cy="154.7" r="0.35"/><circle cx="60.3" cy="160.3" r="0.35"/><circle cx="75.8" cy="149.6" r="0.35"/><circle cx="69.2" cy="161.5" r="0.35"/><circle cx="62.3" cy="161.1" r="0.35"/></g><g fill="#666" opacity="1"><circle cx="84.4" cy="158.9" r="0.35"/><circle cx="77.3" cy="165.6" r="0.35"/><circle cx="75.4" cy="170.6" r="0.35"/><circle cx="73.9" cy="171.4" r="0.35"/><circle cx="76.6" cy="159.2" r="0.35"/><circle cx="82.3" cy="159.6" r="0.35"/><circle cx="70.7" cy="166.7" r="0.35"/><circle cx="72.1" cy="169.0" r="0.35"/><circle cx="72.9" cy="167.8" r="0.35"/><circle cx="77.8" cy="164.4" r="0.35"/><circle cx="73.7" cy="174.0" r="0.35"/><circle cx="72.6" cy="166.0" r="0.35"/><circle cx="73.6" cy="167.1" r="0.35"/><circle cx="81.1" cy="164.2" r="0.35"/><circle cx="74.3" cy="164.9" r="0.35"/><circle cx="70.3" cy="174.0" r="0.35"/><circle cx="75.0" cy="170.8" r="0.35"/><circle cx="81.4" cy="163.0" r="0.35"/><circle cx="82.7" cy="162.0" r="0.35"/><circle cx="75.4" cy="168.2" r="0.35"/><circle cx="79.0" cy="159.5" r="0.35"/><circle cx="75.4" cy="170.5" r="0.35"/><circle cx="77.6" cy="160.4" r="0.35"/><circle cx="74.4" cy="161.7" r="0.35"/><circle cx="74.4" cy="168.6" r="0.35"/><circle cx="72.0" cy="170.2" r="0.35"/><circle cx="77.7" cy="160.8" r="0.35"/><circle cx="75.1" cy="161.4" r="0.35"/><circle cx="80.1" cy="162.0" r="0.35"/><circle cx="78.9" cy="159.5" r="0.35"/><circle cx="77.5" cy="168.1" r="0.35"/><circle cx="77.4" cy="161.6" r="0.35"/><circle cx="72.7" cy="169.6" r="0.35"/><circle cx="70.9" cy="172.0" r="0.35"/><circle cx="74.1" cy="162.6" r="0.35"/><circle cx="78.7" cy="166.5" r="0.35"/><circle cx="81.6" cy="158.0" r="0.35"/><circle cx="75.5" cy="164.0" r="0.35"/><circle cx="72.2" cy="167.4" r="0.35"/><circle cx="71.7" cy="168.6" r="0.35"/><circle cx="71.3" cy="172.2" r="0.35"/><circle cx="77.2" cy="160.3" r="0.35"/><circle cx="73.2" cy="168.0" r="0.35"/><circle cx="82.7" cy="158.8" r="0.35"/><circle cx="76.1" cy="160.8" r="0.35"/><circle cx="73.1" cy="166.8" r="0.35"/><circle cx="76.9" cy="158.9" r="0.35"/><circle cx="76.5" cy="164.5" r="0.35"/><circle cx="74.1" cy="163.3" r="0.35"/><circle cx="77.1" cy="165.5" r="0.35"/></g><g fill="#888" opacity="1"><circle cx="87.2" cy="152.2" r="0.35"/><circle cx="92.9" cy="154.2" r="0.35"/><circle cx="94.0" cy="161.4" r="0.35"/><circle cx="97.7" cy="160.5" r="0.35"/><circle cx="91.3" cy="150.4" r="0.35"/><circle cx="100.1" cy="155.5" r="0.35"/><circle cx="96.2" cy="158.7" r="0.35"/><circle cx="100.1" cy="152.4" r="0.35"/><circle cx="92.3" cy="162.7" r="0.35"/><circle cx="95.6" cy="152.6" r="0.35"/><circle cx="97.6" cy="152.2" r="0.35"/><circle cx="101.5" cy="157.1" r="0.35"/><circle cx="92.1" cy="163.0" r="0.35"/><circle cx="90.3" cy="151.9" r="0.35"/><circle cx="86.4" cy="156.8" r="0.35"/><circle cx="100.1" cy="158.8" r="0.35"/><circle cx="93.3" cy="160.9" r="0.35"/><circle cx="87.2" cy="152.9" r="0.35"/><circle cx="97.9" cy="163.5" r="0.35"/><circle cx="97.7" cy="159.1" r="0.35"/><circle cx="100.5" cy="154.3" r="0.35"/><circle cx="91.8" cy="154.3" r="0.35"/><circle cx="101.1" cy="153.6" r="0.35"/><circle cx="88.7" cy="161.9" r="0.35"/><circle cx="95.6" cy="156.3" r="0.35"/><circle cx="98.4" cy="162.4" r="0.35"/><circle cx="87.7" cy="153.4" r="0.35"/><circle cx="86.3" cy="154.6" r="0.35"/><circle cx="95.0" cy="161.6" r="0.35"/><circle cx="98.4" cy="157.2" r="0.35"/><circle cx="93.1" cy="157.2" r="0.35"/><circle cx="90.5" cy="161.5" r="0.35"/><circle cx="100.8" cy="161.4" r="0.35"/><circle cx="88.0" cy="158.7" r="0.35"/><circle cx="100.1" cy="156.0" r="0.35"/><circle cx="99.9" cy="161.1" r="0.35"/><circle cx="98.0" cy="162.1" r="0.35"/><circle cx="87.6" cy="159.3" r="0.35"/><circle cx="99.1" cy="157.8" r="0.35"/><circle cx="90.5" cy="149.1" r="0.35"/></g><g filter="url(#bl)"><ellipse cx="68" cy="154.2" rx="13" ry="6.6" fill="#999"/><path d="M62.5,154.5 C62.5,149.5 67,147.5 73,147.5 C80,147.5 84.2,149.5 84.2,153.5 C84.2,158.5 80,160.7 73,160.7 C66.5,160.7 62.5,158.5 62.5,154.5 Z" fill="#111"/><ellipse cx="95.4" cy="156.8" rx="7.6" ry="6.6" fill="#aaa"/><ellipse cx="95.4" cy="156.8" rx="5.1" ry="4.8" fill="#111"/></g><line x1="67" y1="153.8" x2="77" y2="153.4" stroke="#777" stroke-width="1.2" filter="url(#bl2)"/><circle cx="95.6" cy="157.3" r="1.1" fill="#ddd"/><g filter="url(#bl)"><path d="M66.2,208.0 L66.2,180.0 C66.2,173.0 72.6,172.0 75.6,172.0 C78.6,172.0 85.0,173.0 85.0,180.0 L85.0,208.0 Z" fill="#9a9a9a"/><path d="M68.4,208.0 L68.4,181.2 C68.4,175.2 73.3,174.2 76.3,174.2 C79.3,174.2 84.2,175.2 84.2,181.2 L84.2,208.0 Z" fill="#5a5a5a"/><path d="M71.5,205.0 L71.5,179.0 C71.5,177.0 71.5,176.0 74.5,176.0 C77.5,176.0 77.6,177.0 77.6,179.0 L77.6,205.0 Z" fill="#1e1e1e"/><path d="M79.4,208.0 L79.4,177.5 C79.4,175.5 79.0,174.5 82.0,174.5 C85.0,174.5 84.6,175.5 84.6,177.5 L84.6,208.0 Z" fill="#0e0e0e"/></g><line x1="78.5" y1="179" x2="78.5" y2="202" stroke="#8a8a8a" stroke-width="1.3" filter="url(#bl2)"/><rect x="65" y="194" width="22" height="11" fill="url(#fd)"/><path d="M80,168 C73,171 66.5,175 66.5,185 L68,207" fill="none" stroke="#777" stroke-width="0.6"/><path d="M71,205 L85,205" stroke="#222" stroke-width="1.6" filter="url(#bl2)"/><rect x="57.3" y="206" width="1.8" height="1.6" fill="#111"/></g><rect x="49.8" y="130.2" width="77.4" height="76.4" fill="none" stroke="#666" stroke-width="0.8"/><rect x="84.7" y="141.5" width="29.0" height="24.400000000000006" fill="none" stroke="#444" stroke-width="0.8"/><text x="90.5" y="140.9" font-family="'Liberation Serif', serif" font-weight="bold" font-size="14.5">7.1%</text><rect x="138.6" y="128.5" width="80.0" height="79.19999999999999" fill="#fff"/><clipPath id="d138"><rect x="138.6" y="128.5" width="80.0" height="79.19999999999999"/></clipPath><line x1="147.4" y1="207.7" x2="147.4" y2="209.2" stroke="#777" stroke-width="0.5"/><text x="147.4" y="217.1" font-family="'Liberation Sans', sans-serif" font-size="4.4" fill="#555" text-anchor="middle">0</text><line x1="160.2" y1="207.7" x2="160.2" y2="209.2" stroke="#777" stroke-width="0.5"/><line x1="175.9" y1="207.7" x2="175.9" y2="209.2" stroke="#777" stroke-width="0.5"/><text x="175.9" y="217.1" font-family="'Liberation Sans', sans-serif" font-size="4.4" fill="#555" text-anchor="middle">10³</text><line x1="193.8" y1="207.7" x2="193.8" y2="209.2" stroke="#777" stroke-width="0.5"/><text x="193.8" y="217.1" font-family="'Liberation Sans', sans-serif" font-size="4.4" fill="#555" text-anchor="middle">10⁴</text><line x1="211.8" y1="207.7" x2="211.8" y2="209.2" stroke="#777" stroke-width="0.5"/><text x="211.8" y="217.1" font-family="'Liberation Sans', sans-serif" font-size="4.4" fill="#555" text-anchor="middle">10⁵</text><line x1="137.1" y1="201.7" x2="138.6" y2="201.7" stroke="#777" stroke-width="0.5"/><text x="136.1" y="203.1" font-family="'Liberation Sans', sans-serif" font-size="4" fill="#555" text-anchor="end">0</text><line x1="137.1" y1="190.0" x2="138.6" y2="190.0" stroke="#777" stroke-width="0.5"/><text x="136.1" y="191.4" font-family="'Liberation Sans', sans-serif" font-size="4" fill="#555" text-anchor="end">10²</text><line x1="137.1" y1="171.7" x2="138.6" y2="171.7" stroke="#777" stroke-width="0.5"/><text x="136.1" y="173.1" font-family="'Liberation Sans', sans-serif" font-size="4" fill="#555" text-anchor="end">10³</text><line x1="137.1" y1="153.3" x2="138.6" y2="153.3" stroke="#777" stroke-width="0.5"/><text x="136.1" y="154.7" font-family="'Liberation Sans', sans-serif" font-size="4" fill="#555" text-anchor="end">10⁴</text><line x1="137.1" y1="134.9" x2="138.6" y2="134.9" stroke="#777" stroke-width="0.5"/><text x="136.1" y="136.3" font-family="'Liberation Sans', sans-serif" font-size="4" fill="#555" text-anchor="end">10⁵</text><g clip-path="url(#d138)"><g fill="#777" opacity="1"><circle cx="186.7" cy="200.6" r="0.33"/><circle cx="160.6" cy="174.9" r="0.33"/><circle cx="156.7" cy="169.9" r="0.33"/><circle cx="192.4" cy="206.9" r="0.33"/><circle cx="202.4" cy="181.1" r="0.33"/><circle cx="194.3" cy="169.0" r="0.33"/><circle cx="205.2" cy="179.7" r="0.33"/><circle cx="139.3" cy="192.4" r="0.33"/><circle cx="150.0" cy="177.6" r="0.33"/><circle cx="143.7" cy="184.7" r="0.33"/><circle cx="182.8" cy="199.9" r="0.33"/><circle cx="142.1" cy="200.8" r="0.33"/><circle cx="147.7" cy="175.4" r="0.33"/><circle cx="188.7" cy="180.3" r="0.33"/><circle cx="165.2" cy="189.9" r="0.33"/><circle cx="156.2" cy="199.3" r="0.33"/><circle cx="155.5" cy="201.3" r="0.33"/><circle cx="202.9" cy="188.6" r="0.33"/><circle cx="141.4" cy="198.7" r="0.33"/><circle cx="141.2" cy="187.2" r="0.33"/><circle cx="172.5" cy="168.6" r="0.33"/><circle cx="188.8" cy="196.4" r="0.33"/><circle cx="185.2" cy="182.8" r="0.33"/><circle cx="179.5" cy="190.7" r="0.33"/><circle cx="156.9" cy="202.4" r="0.33"/><circle cx="217.7" cy="199.8" r="0.33"/><circle cx="214.9" cy="179.8" r="0.33"/><circle cx="216.9" cy="169.0" r="0.33"/><circle cx="176.8" cy="171.6" r="0.33"/><circle cx="174.9" cy="194.7" r="0.33"/><circle cx="195.0" cy="185.1" r="0.33"/><circle cx="166.0" cy="174.0" r="0.33"/><circle cx="170.8" cy="177.9" r="0.33"/><circle cx="154.3" cy="196.9" r="0.33"/><circle cx="179.8" cy="184.4" r="0.33"/><circle cx="154.6" cy="195.6" r="0.33"/><circle cx="154.5" cy="177.2" r="0.33"/><circle cx="183.3" cy="195.5" r="0.33"/><circle cx="215.9" cy="197.4" r="0.33"/><circle cx="213.9" cy="204.6" r="0.33"/><circle cx="196.1" cy="196.2" r="0.33"/><circle cx="144.0" cy="174.6" r="0.33"/><circle cx="140.0" cy="202.3" r="0.33"/><circle cx="196.0" cy="192.5" r="0.33"/><circle cx="159.8" cy="180.9" r="0.33"/><circle cx="151.9" cy="192.6" r="0.33"/><circle cx="217.3" cy="178.8" r="0.33"/><circle cx="142.5" cy="173.4" r="0.33"/><circle cx="167.1" cy="203.8" r="0.33"/><circle cx="202.6" cy="185.1" r="0.33"/><circle cx="147.1" cy="170.5" r="0.33"/><circle cx="151.2" cy="198.7" r="0.33"/><circle cx="176.2" cy="207.6" r="0.33"/><circle cx="211.0" cy="199.4" r="0.33"/><circle cx="176.6" cy="200.5" r="0.33"/><circle cx="149.1" cy="170.6" r="0.33"/><circle cx="183.5" cy="187.3" r="0.33"/><circle cx="155.5" cy="176.6" r="0.33"/><circle cx="140.7" cy="204.2" r="0.33"/><circle cx="195.1" cy="205.7" r="0.33"/><circle cx="216.5" cy="184.3" r="0.33"/><circle cx="196.9" cy="182.1" r="0.33"/><circle cx="203.1" cy="201.3" r="0.33"/><circle cx="149.6" cy="166.5" r="0.33"/><circle cx="155.9" cy="190.6" r="0.33"/><circle cx="168.9" cy="166.4" r="0.33"/><circle cx="204.6" cy="199.0" r="0.33"/><circle cx="175.6" cy="167.8" r="0.33"/><circle cx="209.2" cy="188.4" r="0.33"/><circle cx="144.6" cy="179.6" r="0.33"/><circle cx="188.3" cy="203.2" r="0.33"/><circle cx="177.3" cy="192.9" r="0.33"/><circle cx="155.3" cy="176.2" r="0.33"/><circle cx="210.6" cy="182.1" r="0.33"/><circle cx="147.2" cy="190.8" r="0.33"/><circle cx="149.0" cy="174.4" r="0.33"/><circle cx="175.1" cy="190.6" r="0.33"/><circle cx="189.3" cy="195.7" r="0.33"/><circle cx="173.7" cy="168.8" r="0.33"/><circle cx="196.2" cy="168.3" r="0.33"/><circle cx="176.2" cy="182.8" r="0.33"/><circle cx="192.2" cy="196.0" r="0.33"/><circle cx="157.9" cy="193.3" r="0.33"/><circle cx="193.7" cy="185.8" r="0.33"/><circle cx="150.2" cy="204.2" r="0.33"/><circle cx="186.3" cy="168.6" r="0.33"/><circle cx="157.8" cy="207.4" r="0.33"/><circle cx="157.1" cy="182.5" r="0.33"/><circle cx="201.3" cy="200.6" r="0.33"/><circle cx="189.1" cy="197.1" r="0.33"/><circle cx="142.0" cy="169.9" r="0.33"/><circle cx="216.1" cy="199.7" r="0.33"/><circle cx="142.0" cy="168.0" r="0.33"/><circle cx="158.0" cy="205.1" r="0.33"/><circle cx="156.3" cy="194.2" r="0.33"/><circle cx="212.5" cy="192.8" r="0.33"/><circle cx="211.6" cy="177.0" r="0.33"/><circle cx="151.1" cy="166.8" r="0.33"/><circle cx="198.8" cy="170.4" r="0.33"/><circle cx="215.9" cy="195.8" r="0.33"/><circle cx="153.8" cy="199.9" r="0.33"/><circle cx="151.9" cy="187.5" r="0.33"/><circle cx="147.4" cy="199.1" r="0.33"/><circle cx="209.3" cy="204.5" r="0.33"/><circle cx="139.2" cy="201.8" r="0.33"/><circle cx="182.9" cy="200.5" r="0.33"/><circle cx="178.7" cy="192.0" r="0.33"/><circle cx="186.0" cy="199.6" r="0.33"/><circle cx="145.1" cy="168.3" r="0.33"/><circle cx="182.1" cy="178.2" r="0.33"/></g><g fill="#555" opacity="1"><circle cx="141.8" cy="170.3" r="0.35"/><circle cx="144.2" cy="170.9" r="0.35"/><circle cx="144.8" cy="200.8" r="0.35"/><circle cx="142.2" cy="174.6" r="0.35"/><circle cx="143.6" cy="177.9" r="0.35"/><circle cx="142.0" cy="174.2" r="0.35"/><circle cx="145.8" cy="190.8" r="0.35"/><circle cx="141.5" cy="173.6" r="0.35"/><circle cx="144.1" cy="202.3" r="0.35"/><circle cx="144.9" cy="173.9" r="0.35"/><circle cx="141.6" cy="181.5" r="0.35"/><circle cx="144.3" cy="175.6" r="0.35"/><circle cx="143.2" cy="207.2" r="0.35"/><circle cx="144.4" cy="170.3" r="0.35"/><circle cx="139.5" cy="174.3" r="0.35"/><circle cx="143.8" cy="192.8" r="0.35"/><circle cx="142.6" cy="187.3" r="0.35"/><circle cx="141.9" cy="193.2" r="0.35"/><circle cx="143.5" cy="204.8" r="0.35"/><circle cx="144.1" cy="200.3" r="0.35"/><circle cx="145.4" cy="201.8" r="0.35"/><circle cx="144.0" cy="171.2" r="0.35"/><circle cx="143.8" cy="202.3" r="0.35"/><circle cx="142.0" cy="203.4" r="0.35"/><circle cx="140.3" cy="205.8" r="0.35"/><circle cx="142.1" cy="196.8" r="0.35"/><circle cx="140.8" cy="181.4" r="0.35"/><circle cx="141.4" cy="182.3" r="0.35"/><circle cx="139.7" cy="186.8" r="0.35"/><circle cx="145.9" cy="194.9" r="0.35"/><circle cx="145.5" cy="199.0" r="0.35"/><circle cx="144.9" cy="207.8" r="0.35"/><circle cx="144.3" cy="180.4" r="0.35"/><circle cx="140.7" cy="185.7" r="0.35"/><circle cx="139.1" cy="178.8" r="0.35"/><circle cx="145.2" cy="205.0" r="0.35"/><circle cx="141.3" cy="199.3" r="0.35"/><circle cx="144.4" cy="203.8" r="0.35"/><circle cx="144.6" cy="190.2" r="0.35"/><circle cx="139.7" cy="201.4" r="0.35"/><circle cx="141.2" cy="193.8" r="0.35"/><circle cx="141.6" cy="190.4" r="0.35"/><circle cx="145.8" cy="176.1" r="0.35"/><circle cx="142.7" cy="194.7" r="0.35"/><circle cx="142.8" cy="205.6" r="0.35"/><circle cx="141.9" cy="204.7" r="0.35"/><circle cx="143.8" cy="206.8" r="0.35"/><circle cx="139.6" cy="178.1" r="0.35"/><circle cx="141.0" cy="204.4" r="0.35"/><circle cx="139.1" cy="179.9" r="0.35"/><circle cx="144.0" cy="207.6" r="0.35"/><circle cx="140.2" cy="186.6" r="0.35"/><circle cx="143.8" cy="196.2" r="0.35"/><circle cx="144.2" cy="198.6" r="0.35"/><circle cx="140.7" cy="179.8" r="0.35"/><circle cx="139.2" cy="196.3" r="0.35"/><circle cx="140.5" cy="179.9" r="0.35"/><circle cx="145.8" cy="194.4" r="0.35"/><circle cx="143.1" cy="194.9" r="0.35"/><circle cx="143.2" cy="196.4" r="0.35"/></g><path d="M140.2,154.5 C142,149 150,145 158,144.6 C165,144.3 169.5,148 169.5,153.5 C169.5,160 163,165.3 156.6,165.3 C149,165.3 141.5,159 140.2,154.5 Z" fill="#e8e8e8" stroke="#555" stroke-width="0.6"/><path d="M142.5,154.5 C144,150 151,146.5 158,146.2 C164.5,146 168,149 168,153.6 C168,159 162.5,163.7 156.6,163.7 C150,163.7 143.8,158.5 142.5,154.5 Z" fill="#a8a8a8" stroke="#555" stroke-width="0.5"/><path d="M144.5,154.5 C145.5,150.8 151.5,147.6 158,147.3 C164,147.1 166.6,149.6 166.6,153.7 C166.6,158.3 162,162.4 156.8,162.4 C150.5,162.4 145.6,158 144.5,154.5 Z" fill="#666"/><g filter="url(#bl2)"><path d="M146.8,154.5 C147.8,151 152.8,148.2 158.5,148.1 C163.8,148 166.6,150.3 166.6,154 C166.6,158.4 162.3,161.4 157,161.4 C151.7,161.4 147.2,158 146.8,154.5 Z" fill="#141414"/><ellipse cx="150.8" cy="154.6" rx="2.3" ry="2.8" fill="#6a6a6a"/></g><circle cx="158.6" cy="154.9" r="0.9" fill="#ccc"/><path d="M139.6,209 L139.6,179.2 C142,176 146,174.3 150,173.8 C155,173 160,172.6 164,172.8 C169,173.2 173,175 174.5,180 L174.5,209 Z" fill="#e2e2e2" stroke="#555" stroke-width="0.6"/><path d="M141.4,209 L141.4,180 C143.5,177.3 147,175.9 150.5,175.5 C155,174.8 160,174.4 164,174.6 C168,175 171.3,176.6 172.8,180.8 L172.8,209 Z" fill="#a8a8a8" stroke="#555" stroke-width="0.5"/><path d="M143,209 L143,181 C145,178.6 148,177.5 151,177.1 C155,176.6 160,176.2 164,176.4 C167.5,176.8 170,178.2 171.2,181.6 L171.2,209 Z" fill="#5e5e5e"/><g filter="url(#bl2)"><path d="M146,209 L146,184 C147,180.5 150,178.8 154,178.4 L164,178.2 C168,178.4 170,180 170.2,184 L170.2,209 Z" fill="#141414"/><ellipse cx="157.4" cy="192.5" rx="3.8" ry="6.8" fill="#555"/><ellipse cx="156.8" cy="190" rx="1.8" ry="3" fill="#808080"/><path d="M150,205.5 L170,205.5" stroke="#111" stroke-width="2.2"/></g><g fill="none" stroke="#777" stroke-width="0.7"><ellipse cx="183.4" cy="155.9" rx="7.5" ry="6.6"/><ellipse cx="183.4" cy="155.9" rx="5.6" ry="4.9"/><ellipse cx="183.6" cy="156" rx="3.8" ry="3.3"/><ellipse cx="183.8" cy="156" rx="2.2" ry="1.9"/></g><circle cx="183.8" cy="156" r="1" fill="#fff"/></g><rect x="138.6" y="128.5" width="80.0" height="79.19999999999999" fill="none" stroke="#666" stroke-width="0.8"/><rect x="174.4" y="140.9" width="30.19999999999999" height="25.5" fill="none" stroke="#444" stroke-width="0.8"/><text x="178.2" y="140.9" font-family="'Liberation Serif', serif" font-weight="bold" font-size="14.5">3.5%</text><rect x="230.6" y="128.6" width="79.6" height="79.1" fill="#fff"/><clipPath id="d230"><rect x="230.6" y="128.6" width="79.6" height="79.1"/></clipPath><line x1="239.4" y1="207.7" x2="239.4" y2="209.2" stroke="#777" stroke-width="0.5"/><text x="239.4" y="217.1" font-family="'Liberation Sans', sans-serif" font-size="4.4" fill="#555" text-anchor="middle">0</text><line x1="252.1" y1="207.7" x2="252.1" y2="209.2" stroke="#777" stroke-width="0.5"/><line x1="267.7" y1="207.7" x2="267.7" y2="209.2" stroke="#777" stroke-width="0.5"/><text x="267.7" y="217.1" font-family="'Liberation Sans', sans-serif" font-size="4.4" fill="#555" text-anchor="middle">10³</text><line x1="285.5" y1="207.7" x2="285.5" y2="209.2" stroke="#777" stroke-width="0.5"/><text x="285.5" y="217.1" font-family="'Liberation Sans', sans-serif" font-size="4.4" fill="#555" text-anchor="middle">10⁴</text><line x1="303.4" y1="207.7" x2="303.4" y2="209.2" stroke="#777" stroke-width="0.5"/><text x="303.4" y="217.1" font-family="'Liberation Sans', sans-serif" font-size="4.4" fill="#555" text-anchor="middle">10⁵</text><line x1="229.1" y1="201.7" x2="230.6" y2="201.7" stroke="#777" stroke-width="0.5"/><text x="228.1" y="203.1" font-family="'Liberation Sans', sans-serif" font-size="4" fill="#555" text-anchor="end">0</text><line x1="229.1" y1="190.0" x2="230.6" y2="190.0" stroke="#777" stroke-width="0.5"/><text x="228.1" y="191.4" font-family="'Liberation Sans', sans-serif" font-size="4" fill="#555" text-anchor="end">10²</text><line x1="229.1" y1="171.7" x2="230.6" y2="171.7" stroke="#777" stroke-width="0.5"/><text x="228.1" y="173.1" font-family="'Liberation Sans', sans-serif" font-size="4" fill="#555" text-anchor="end">10³</text><line x1="229.1" y1="153.3" x2="230.6" y2="153.3" stroke="#777" stroke-width="0.5"/><text x="228.1" y="154.7" font-family="'Liberation Sans', sans-serif" font-size="4" fill="#555" text-anchor="end">10⁴</text><line x1="229.1" y1="134.9" x2="230.6" y2="134.9" stroke="#777" stroke-width="0.5"/><text x="228.1" y="136.3" font-family="'Liberation Sans', sans-serif" font-size="4" fill="#555" text-anchor="end">10⁵</text><g clip-path="url(#d230)"><g fill="#666" opacity="0.7"><circle cx="236.8" cy="161.2" r="0.36"/><circle cx="237.9" cy="165.1" r="0.36"/><circle cx="233.1" cy="182.7" r="0.36"/><circle cx="236.2" cy="196.5" r="0.36"/><circle cx="234.4" cy="163.0" r="0.36"/><circle cx="236.8" cy="178.4" r="0.36"/><circle cx="244.8" cy="162.7" r="0.36"/><circle cx="246.7" cy="169.3" r="0.36"/><circle cx="243.7" cy="171.9" r="0.36"/><circle cx="231.2" cy="167.5" r="0.36"/><circle cx="248.2" cy="165.9" r="0.36"/><circle cx="243.5" cy="187.3" r="0.36"/><circle cx="243.6" cy="167.0" r="0.36"/><circle cx="233.7" cy="162.9" r="0.36"/><circle cx="243.4" cy="186.5" r="0.36"/><circle cx="235.2" cy="161.2" r="0.36"/><circle cx="231.3" cy="200.6" r="0.36"/><circle cx="233.5" cy="206.2" r="0.36"/><circle cx="237.9" cy="194.1" r="0.36"/><circle cx="233.6" cy="197.4" r="0.36"/><circle cx="235.8" cy="176.3" r="0.36"/><circle cx="240.9" cy="163.6" r="0.36"/><circle cx="235.7" cy="197.8" r="0.36"/><circle cx="236.4" cy="177.0" r="0.36"/><circle cx="245.5" cy="169.2" r="0.36"/><circle cx="234.7" cy="169.0" r="0.36"/><circle cx="238.3" cy="176.3" r="0.36"/><circle cx="243.2" cy="181.6" r="0.36"/><circle cx="247.5" cy="160.5" r="0.36"/><circle cx="243.6" cy="199.8" r="0.36"/><circle cx="239.3" cy="163.8" r="0.36"/><circle cx="239.7" cy="193.6" r="0.36"/><circle cx="232.8" cy="163.9" r="0.36"/><circle cx="240.1" cy="166.7" r="0.36"/><circle cx="235.4" cy="180.0" r="0.36"/><circle cx="233.2" cy="161.4" r="0.36"/><circle cx="237.9" cy="181.5" r="0.36"/><circle cx="232.4" cy="169.1" r="0.36"/><circle cx="247.3" cy="163.5" r="0.36"/><circle cx="235.6" cy="166.5" r="0.36"/><circle cx="247.4" cy="168.6" r="0.36"/><circle cx="232.6" cy="171.3" r="0.36"/><circle cx="244.9" cy="161.7" r="0.36"/><circle cx="239.6" cy="173.9" r="0.36"/><circle cx="234.9" cy="191.1" r="0.36"/><circle cx="237.9" cy="164.0" r="0.36"/><circle cx="243.4" cy="183.7" r="0.36"/><circle cx="231.5" cy="181.5" r="0.36"/><circle cx="235.4" cy="182.9" r="0.36"/><circle cx="242.5" cy="190.6" r="0.36"/><circle cx="233.8" cy="198.2" r="0.36"/><circle cx="248.2" cy="167.1" r="0.36"/><circle cx="235.3" cy="187.9" r="0.36"/><circle cx="248.1" cy="162.1" r="0.36"/><circle cx="239.3" cy="165.0" r="0.36"/><circle cx="234.6" cy="195.4" r="0.36"/><circle cx="242.1" cy="205.0" r="0.36"/><circle cx="238.6" cy="192.0" r="0.36"/><circle cx="231.2" cy="205.4" r="0.36"/><circle cx="235.4" cy="181.9" r="0.36"/><circle cx="240.7" cy="205.4" r="0.36"/><circle cx="240.3" cy="207.6" r="0.36"/><circle cx="242.8" cy="168.8" r="0.36"/><circle cx="246.8" cy="168.1" r="0.36"/><circle cx="235.3" cy="206.1" r="0.36"/><circle cx="237.1" cy="178.3" r="0.36"/><circle cx="237.5" cy="191.4" r="0.36"/><circle cx="231.4" cy="176.7" r="0.36"/><circle cx="234.1" cy="199.4" r="0.36"/><circle cx="231.0" cy="188.4" r="0.36"/><circle cx="235.9" cy="180.7" r="0.36"/><circle cx="241.7" cy="193.6" r="0.36"/><circle cx="233.6" cy="170.0" r="0.36"/><circle cx="233.3" cy="206.0" r="0.36"/><circle cx="233.8" cy="164.9" r="0.36"/><circle cx="240.9" cy="187.1" r="0.36"/><circle cx="247.8" cy="160.8" r="0.36"/><circle cx="235.5" cy="166.4" r="0.36"/><circle cx="242.1" cy="180.6" r="0.36"/><circle cx="238.8" cy="202.4" r="0.36"/><circle cx="243.6" cy="201.0" r="0.36"/><circle cx="249.2" cy="171.4" r="0.36"/><circle cx="232.0" cy="203.7" r="0.36"/><circle cx="236.5" cy="172.4" r="0.36"/><circle cx="239.0" cy="184.5" r="0.36"/><circle cx="243.4" cy="183.6" r="0.36"/><circle cx="233.2" cy="170.2" r="0.36"/><circle cx="243.5" cy="187.3" r="0.36"/><circle cx="249.3" cy="167.6" r="0.36"/><circle cx="232.4" cy="202.9" r="0.36"/><circle cx="241.8" cy="167.1" r="0.36"/><circle cx="244.1" cy="170.8" r="0.36"/><circle cx="235.5" cy="176.3" r="0.36"/><circle cx="241.0" cy="191.9" r="0.36"/><circle cx="232.4" cy="195.1" r="0.36"/><circle cx="242.9" cy="181.6" r="0.36"/><circle cx="243.8" cy="198.0" r="0.36"/><circle cx="231.2" cy="181.8" r="0.36"/><circle cx="243.9" cy="193.5" r="0.36"/><circle cx="243.3" cy="167.0" r="0.36"/><circle cx="235.4" cy="179.5" r="0.36"/><circle cx="249.2" cy="168.4" r="0.36"/><circle cx="238.8" cy="206.1" r="0.36"/><circle cx="248.1" cy="169.6" r="0.36"/><circle cx="243.6" cy="196.3" r="0.36"/><circle cx="233.4" cy="169.1" r="0.36"/><circle cx="235.1" cy="171.3" r="0.36"/><circle cx="231.7" cy="164.8" r="0.36"/><circle cx="238.7" cy="179.0" r="0.36"/><circle cx="232.5" cy="187.1" r="0.36"/><circle cx="237.8" cy="193.2" r="0.36"/><circle cx="239.3" cy="166.8" r="0.36"/><circle cx="243.8" cy="166.0" r="0.36"/><circle cx="238.0" cy="206.1" r="0.36"/><circle cx="243.2" cy="189.7" r="0.36"/><circle cx="234.7" cy="196.3" r="0.36"/><circle cx="236.7" cy="170.8" r="0.36"/><circle cx="242.2" cy="167.9" r="0.36"/><circle cx="231.3" cy="184.7" r="0.36"/><circle cx="244.8" cy="171.6" r="0.36"/><circle cx="234.3" cy="192.8" r="0.36"/><circle cx="231.1" cy="169.5" r="0.36"/><circle cx="236.0" cy="193.6" r="0.36"/><circle cx="233.2" cy="204.7" r="0.36"/><circle cx="249.4" cy="165.4" r="0.36"/><circle cx="237.4" cy="184.1" r="0.36"/><circle cx="237.1" cy="178.9" r="0.36"/><circle cx="240.1" cy="170.9" r="0.36"/><circle cx="232.0" cy="162.2" r="0.36"/><circle cx="234.1" cy="162.6" r="0.36"/><circle cx="242.9" cy="192.8" r="0.36"/><circle cx="236.0" cy="197.6" r="0.36"/><circle cx="240.3" cy="167.4" r="0.36"/><circle cx="232.0" cy="165.7" r="0.36"/><circle cx="244.6" cy="169.5" r="0.36"/><circle cx="232.8" cy="187.3" r="0.36"/><circle cx="234.6" cy="193.4" r="0.36"/><circle cx="235.4" cy="162.7" r="0.36"/><circle cx="243.6" cy="186.3" r="0.36"/><circle cx="233.6" cy="167.6" r="0.36"/><circle cx="242.1" cy="163.4" r="0.36"/><circle cx="243.0" cy="170.0" r="0.36"/><circle cx="235.9" cy="179.2" r="0.36"/><circle cx="241.1" cy="194.2" r="0.36"/><circle cx="231.6" cy="194.2" r="0.36"/><circle cx="235.2" cy="172.5" r="0.36"/><circle cx="243.2" cy="192.6" r="0.36"/><circle cx="242.7" cy="203.1" r="0.36"/><circle cx="234.9" cy="173.6" r="0.36"/><circle cx="243.6" cy="171.0" r="0.36"/><circle cx="234.0" cy="169.3" r="0.36"/><circle cx="237.0" cy="194.1" r="0.36"/><circle cx="232.1" cy="188.5" r="0.36"/><circle cx="232.7" cy="160.5" r="0.36"/><circle cx="240.8" cy="165.6" r="0.36"/><circle cx="239.8" cy="167.9" r="0.36"/><circle cx="233.3" cy="183.3" r="0.36"/><circle cx="240.9" cy="176.1" r="0.36"/><circle cx="245.7" cy="163.3" r="0.36"/><circle cx="232.3" cy="177.4" r="0.36"/><circle cx="240.2" cy="170.6" r="0.36"/><circle cx="243.7" cy="169.1" r="0.36"/><circle cx="237.0" cy="181.8" r="0.36"/><circle cx="238.1" cy="180.3" r="0.36"/><circle cx="242.8" cy="163.2" r="0.36"/><circle cx="239.7" cy="189.8" r="0.36"/><circle cx="233.5" cy="181.3" r="0.36"/><circle cx="242.8" cy="173.0" r="0.36"/><circle cx="232.3" cy="195.5" r="0.36"/><circle cx="232.6" cy="177.7" r="0.36"/><circle cx="232.8" cy="206.2" r="0.36"/><circle cx="232.0" cy="172.4" r="0.36"/><circle cx="245.6" cy="164.8" r="0.36"/><circle cx="233.0" cy="161.5" r="0.36"/><circle cx="234.1" cy="184.6" r="0.36"/><circle cx="246.8" cy="166.5" r="0.36"/><circle cx="234.3" cy="196.2" r="0.36"/><circle cx="239.1" cy="174.9" r="0.36"/><circle cx="233.3" cy="170.1" r="0.36"/><circle cx="249.5" cy="163.8" r="0.36"/><circle cx="235.9" cy="195.0" r="0.36"/><circle cx="240.0" cy="205.8" r="0.36"/><circle cx="242.5" cy="172.4" r="0.36"/><circle cx="239.8" cy="193.8" r="0.36"/><circle cx="244.9" cy="164.5" r="0.36"/><circle cx="234.7" cy="205.9" r="0.36"/><circle cx="233.0" cy="198.7" r="0.36"/><circle cx="237.4" cy="170.4" r="0.36"/><circle cx="235.8" cy="181.5" r="0.36"/><circle cx="249.8" cy="165.4" r="0.36"/><circle cx="234.3" cy="195.2" r="0.36"/><circle cx="237.5" cy="167.4" r="0.36"/><circle cx="238.9" cy="199.1" r="0.36"/><circle cx="231.2" cy="196.2" r="0.36"/><circle cx="242.5" cy="203.0" r="0.36"/><circle cx="236.1" cy="176.3" r="0.36"/><circle cx="238.1" cy="175.6" r="0.36"/><circle cx="238.2" cy="163.5" r="0.36"/><circle cx="235.3" cy="203.5" r="0.36"/><circle cx="238.8" cy="189.8" r="0.36"/></g><g fill="#999" opacity="1"><circle cx="305.0" cy="197.2" r="0.33"/><circle cx="276.8" cy="204.5" r="0.33"/><circle cx="301.4" cy="207.6" r="0.33"/><circle cx="298.0" cy="197.2" r="0.33"/><circle cx="301.8" cy="175.1" r="0.33"/><circle cx="294.9" cy="180.7" r="0.33"/><circle cx="302.9" cy="169.9" r="0.33"/><circle cx="289.7" cy="178.8" r="0.33"/><circle cx="302.1" cy="179.2" r="0.33"/><circle cx="303.1" cy="201.3" r="0.33"/><circle cx="304.7" cy="170.1" r="0.33"/><circle cx="307.3" cy="196.7" r="0.33"/><circle cx="295.8" cy="192.7" r="0.33"/><circle cx="268.1" cy="202.3" r="0.33"/><circle cx="290.1" cy="184.1" r="0.33"/><circle cx="280.9" cy="198.4" r="0.33"/><circle cx="300.4" cy="202.3" r="0.33"/><circle cx="275.4" cy="179.0" r="0.33"/><circle cx="277.0" cy="168.4" r="0.33"/><circle cx="280.4" cy="165.1" r="0.33"/><circle cx="301.0" cy="174.0" r="0.33"/><circle cx="269.1" cy="167.0" r="0.33"/><circle cx="298.6" cy="172.7" r="0.33"/><circle cx="286.3" cy="181.7" r="0.33"/><circle cx="301.3" cy="206.0" r="0.33"/><circle cx="279.6" cy="191.8" r="0.33"/><circle cx="305.4" cy="184.7" r="0.33"/><circle cx="305.6" cy="196.3" r="0.33"/><circle cx="279.7" cy="202.5" r="0.33"/><circle cx="291.2" cy="168.7" r="0.33"/><circle cx="291.8" cy="200.5" r="0.33"/><circle cx="288.8" cy="185.3" r="0.33"/><circle cx="284.3" cy="202.7" r="0.33"/><circle cx="295.3" cy="173.1" r="0.33"/><circle cx="281.9" cy="180.0" r="0.33"/><circle cx="308.2" cy="194.6" r="0.33"/><circle cx="271.5" cy="204.2" r="0.33"/><circle cx="267.5" cy="190.0" r="0.33"/><circle cx="285.0" cy="195.6" r="0.33"/><circle cx="284.9" cy="168.1" r="0.33"/><circle cx="289.0" cy="200.1" r="0.33"/><circle cx="300.7" cy="179.7" r="0.33"/><circle cx="275.8" cy="196.8" r="0.33"/><circle cx="301.3" cy="173.6" r="0.33"/><circle cx="304.9" cy="207.7" r="0.33"/><circle cx="285.1" cy="180.7" r="0.33"/><circle cx="297.2" cy="204.9" r="0.33"/><circle cx="274.9" cy="177.3" r="0.33"/><circle cx="280.5" cy="196.2" r="0.33"/><circle cx="274.2" cy="188.1" r="0.33"/><circle cx="288.0" cy="193.4" r="0.33"/><circle cx="272.3" cy="206.1" r="0.33"/><circle cx="310.0" cy="188.7" r="0.33"/><circle cx="301.0" cy="172.1" r="0.33"/><circle cx="306.0" cy="188.3" r="0.33"/><circle cx="299.4" cy="202.2" r="0.33"/><circle cx="281.9" cy="204.7" r="0.33"/><circle cx="275.1" cy="165.0" r="0.33"/><circle cx="288.1" cy="203.5" r="0.33"/><circle cx="305.6" cy="206.0" r="0.33"/></g><g fill="#666" opacity="1"><circle cx="244.3" cy="159.9" r="0.35"/><circle cx="245.4" cy="147.3" r="0.35"/><circle cx="247.1" cy="157.9" r="0.35"/><circle cx="242.2" cy="154.6" r="0.35"/><circle cx="238.2" cy="149.4" r="0.35"/><circle cx="242.1" cy="153.2" r="0.35"/><circle cx="243.2" cy="146.5" r="0.35"/><circle cx="249.2" cy="157.0" r="0.35"/><circle cx="237.7" cy="149.1" r="0.35"/><circle cx="244.4" cy="147.8" r="0.35"/><circle cx="246.5" cy="159.5" r="0.35"/><circle cx="236.8" cy="154.4" r="0.35"/><circle cx="249.3" cy="157.0" r="0.35"/><circle cx="249.1" cy="156.4" r="0.35"/><circle cx="238.5" cy="158.4" r="0.35"/><circle cx="254.7" cy="152.1" r="0.35"/><circle cx="251.1" cy="155.8" r="0.35"/><circle cx="235.4" cy="152.4" r="0.35"/><circle cx="240.1" cy="157.3" r="0.35"/><circle cx="237.9" cy="148.2" r="0.35"/><circle cx="235.9" cy="151.6" r="0.35"/><circle cx="246.8" cy="149.9" r="0.35"/><circle cx="235.9" cy="148.5" r="0.35"/><circle cx="239.6" cy="153.1" r="0.35"/><circle cx="236.4" cy="152.7" r="0.35"/><circle cx="242.6" cy="160.6" r="0.35"/><circle cx="243.7" cy="160.1" r="0.35"/><circle cx="243.3" cy="148.2" r="0.35"/><circle cx="246.2" cy="147.3" r="0.35"/><circle cx="241.7" cy="150.7" r="0.35"/><circle cx="242.2" cy="150.6" r="0.35"/><circle cx="248.6" cy="151.3" r="0.35"/><circle cx="245.7" cy="145.1" r="0.35"/><circle cx="252.4" cy="156.7" r="0.35"/><circle cx="240.5" cy="155.1" r="0.35"/><circle cx="254.1" cy="151.4" r="0.35"/><circle cx="242.4" cy="149.8" r="0.35"/><circle cx="245.3" cy="155.6" r="0.35"/><circle cx="235.5" cy="150.9" r="0.35"/><circle cx="252.4" cy="157.7" r="0.35"/><circle cx="246.2" cy="155.8" r="0.35"/><circle cx="240.2" cy="160.1" r="0.35"/><circle cx="245.2" cy="151.4" r="0.35"/><circle cx="236.4" cy="146.8" r="0.35"/><circle cx="253.5" cy="157.8" r="0.35"/><circle cx="243.5" cy="152.9" r="0.35"/><circle cx="240.7" cy="159.3" r="0.35"/><circle cx="240.4" cy="153.5" r="0.35"/><circle cx="254.3" cy="155.2" r="0.35"/><circle cx="243.4" cy="150.3" r="0.35"/><circle cx="241.3" cy="154.7" r="0.35"/><circle cx="250.9" cy="149.2" r="0.35"/><circle cx="240.9" cy="151.2" r="0.35"/><circle cx="240.7" cy="159.6" r="0.35"/><circle cx="244.9" cy="149.4" r="0.35"/><circle cx="240.0" cy="158.1" r="0.35"/><circle cx="235.8" cy="156.0" r="0.35"/><circle cx="235.5" cy="148.6" r="0.35"/><circle cx="249.6" cy="156.5" r="0.35"/><circle cx="245.2" cy="159.8" r="0.35"/></g><g fill="#666" opacity="1"><circle cx="247.1" cy="174.7" r="0.35"/><circle cx="253.3" cy="175.6" r="0.35"/><circle cx="255.0" cy="165.0" r="0.35"/><circle cx="261.2" cy="161.2" r="0.35"/><circle cx="253.1" cy="171.3" r="0.35"/><circle cx="260.7" cy="158.6" r="0.35"/><circle cx="255.1" cy="172.2" r="0.35"/><circle cx="258.2" cy="166.1" r="0.35"/><circle cx="253.8" cy="170.4" r="0.35"/><circle cx="254.5" cy="170.0" r="0.35"/><circle cx="258.1" cy="171.1" r="0.35"/><circle cx="254.4" cy="175.3" r="0.35"/><circle cx="259.1" cy="163.7" r="0.35"/><circle cx="252.3" cy="171.6" r="0.35"/><circle cx="248.6" cy="173.4" r="0.35"/><circle cx="256.2" cy="163.0" r="0.35"/><circle cx="266.2" cy="159.5" r="0.35"/><circle cx="258.5" cy="165.7" r="0.35"/><circle cx="266.5" cy="159.6" r="0.35"/><circle cx="262.9" cy="159.9" r="0.35"/><circle cx="261.7" cy="162.6" r="0.35"/><circle cx="261.6" cy="161.9" r="0.35"/><circle cx="260.0" cy="163.0" r="0.35"/><circle cx="253.5" cy="174.6" r="0.35"/><circle cx="254.8" cy="168.3" r="0.35"/><circle cx="255.5" cy="173.5" r="0.35"/><circle cx="254.2" cy="175.1" r="0.35"/><circle cx="262.2" cy="160.6" r="0.35"/><circle cx="260.6" cy="159.0" r="0.35"/><circle cx="262.0" cy="160.4" r="0.35"/><circle cx="259.6" cy="164.8" r="0.35"/><circle cx="250.7" cy="172.7" r="0.35"/><circle cx="265.5" cy="158.6" r="0.35"/><circle cx="255.7" cy="166.4" r="0.35"/><circle cx="252.9" cy="174.8" r="0.35"/><circle cx="263.7" cy="160.2" r="0.35"/><circle cx="263.1" cy="162.5" r="0.35"/><circle cx="266.0" cy="162.0" r="0.35"/><circle cx="259.5" cy="167.6" r="0.35"/><circle cx="247.3" cy="174.4" r="0.35"/><circle cx="262.1" cy="162.2" r="0.35"/><circle cx="255.7" cy="172.8" r="0.35"/><circle cx="257.7" cy="165.3" r="0.35"/><circle cx="255.8" cy="166.9" r="0.35"/><circle cx="257.7" cy="171.7" r="0.35"/><circle cx="258.6" cy="160.9" r="0.35"/><circle cx="257.6" cy="163.6" r="0.35"/><circle cx="259.5" cy="168.1" r="0.35"/><circle cx="253.3" cy="175.1" r="0.35"/><circle cx="259.6" cy="167.8" r="0.35"/></g><g fill="#888" opacity="1"><circle cx="286.1" cy="159.7" r="0.35"/><circle cx="275.6" cy="158.5" r="0.35"/><circle cx="279.6" cy="150.9" r="0.35"/><circle cx="278.7" cy="149.2" r="0.35"/><circle cx="285.6" cy="159.7" r="0.35"/><circle cx="282.4" cy="164.6" r="0.35"/><circle cx="269.0" cy="155.1" r="0.35"/><circle cx="276.7" cy="164.1" r="0.35"/><circle cx="280.4" cy="162.7" r="0.35"/><circle cx="271.8" cy="162.8" r="0.35"/><circle cx="273.6" cy="163.7" r="0.35"/><circle cx="278.8" cy="153.1" r="0.35"/><circle cx="270.3" cy="161.2" r="0.35"/><circle cx="273.7" cy="149.8" r="0.35"/><circle cx="275.6" cy="159.6" r="0.35"/><circle cx="281.7" cy="150.1" r="0.35"/><circle cx="283.2" cy="157.5" r="0.35"/><circle cx="275.5" cy="164.1" r="0.35"/><circle cx="273.4" cy="149.7" r="0.35"/><circle cx="280.4" cy="162.2" r="0.35"/><circle cx="271.4" cy="156.6" r="0.35"/><circle cx="280.1" cy="157.6" r="0.35"/><circle cx="276.7" cy="157.3" r="0.35"/><circle cx="276.9" cy="151.5" r="0.35"/><circle cx="283.9" cy="151.6" r="0.35"/><circle cx="285.3" cy="151.6" r="0.35"/><circle cx="269.9" cy="156.1" r="0.35"/><circle cx="276.1" cy="153.4" r="0.35"/><circle cx="284.1" cy="151.2" r="0.35"/><circle cx="282.1" cy="162.9" r="0.35"/><circle cx="277.5" cy="156.6" r="0.35"/><circle cx="287.4" cy="158.5" r="0.35"/><circle cx="269.7" cy="153.3" r="0.35"/><circle cx="269.9" cy="159.3" r="0.35"/><circle cx="276.9" cy="152.9" r="0.35"/><circle cx="278.8" cy="164.8" r="0.35"/><circle cx="273.1" cy="149.9" r="0.35"/><circle cx="274.4" cy="153.2" r="0.35"/><circle cx="277.0" cy="150.2" r="0.35"/><circle cx="285.8" cy="159.3" r="0.35"/></g><g filter="url(#bl)"><ellipse cx="249" cy="153.4" rx="12.5" ry="7.4" fill="#999"/><path d="M244.6,154.5 C244.6,148.5 249,145.8 255,145.8 C261.5,145.8 265,147.8 265,151.8 C265,157.5 261,160.8 254,160.8 C248,160.8 244.6,158.5 244.6,154.5 Z" fill="#111"/><ellipse cx="278.1" cy="156.7" rx="8" ry="7.5" fill="#999"/><ellipse cx="278.1" cy="156.7" rx="5.3" ry="5.2" fill="#111"/></g><line x1="249" y1="153.8" x2="259" y2="152.2" stroke="#777" stroke-width="1.2" filter="url(#bl2)"/><circle cx="278.1" cy="156.9" r="1.3" fill="#ccc"/><g filter="url(#bl)"><path d="M245.0,208.0 L245.0,180.4 C245.0,173.4 252.3,172.4 255.3,172.4 C258.3,172.4 265.6,173.4 265.6,180.4 L265.6,208.0 Z" fill="#aaa"/><path d="M247.2,208.0 L247.2,181.6 C247.2,175.6 253.0,174.6 256.0,174.6 C259.0,174.6 264.8,175.6 264.8,181.6 L264.8,208.0 Z" fill="#6a6a6a"/><path d="M250.3,205.0 L250.3,180.4 C250.3,178.4 250.3,177.4 253.3,177.4 C256.3,177.4 256.3,178.4 256.3,180.4 L256.3,205.0 Z" fill="#1e1e1e"/><path d="M258.6,208.0 L258.6,178.0 C258.6,176.0 258.5,175.0 261.5,175.0 C264.5,175.0 264.4,176.0 264.4,178.0 L264.4,208.0 Z" fill="#0e0e0e"/></g><line x1="257.5" y1="180.4" x2="257.5" y2="202" stroke="#8a8a8a" stroke-width="1.3" filter="url(#bl2)"/><path d="M262,168 C253,171 246,175 245,185 L245.5,208" fill="none" stroke="#777" stroke-width="0.6"/><rect x="244" y="195" width="23" height="11" fill="url(#fd)"/><path d="M249,206 L265,206" stroke="#333" stroke-width="1.6" filter="url(#bl2)"/><rect x="238.9" y="207" width="1.8" height="1.6" fill="#111"/></g><rect x="230.6" y="128.6" width="79.6" height="79.1" fill="none" stroke="#666" stroke-width="0.8"/><rect x="266.4" y="141.4" width="30.30000000000001" height="24.69999999999999" fill="none" stroke="#444" stroke-width="0.8"/><text x="268.3" y="140.9" font-family="'Liberation Serif', serif" font-weight="bold" font-size="14.5">7.6%</text><g stroke="#000" stroke-width="2.6" fill="none"><line x1="394.9" y1="20" x2="394.9" y2="129.6"/><polyline points="390.2,29.6 394.9,20.6 399.6,29.6"/><line x1="393.6" y1="128.3" x2="518" y2="128.3"/><polyline points="511.5,124.2 518.6,128.3 510,132.8"/></g><text transform="translate(388,113) rotate(-90)" font-family="'Liberation Serif', serif" font-weight="bold" font-size="14">% of Max</text><text x="421.6" y="145.1" font-family="'Liberation Serif', serif" font-weight="bold" font-size="14">MHC II</text><text x="469.6" y="139.6" font-family="'Liberation Serif', serif" font-weight="bold" font-size="8.4">+</text><path d="M412.6,114 V15.4 H511.7 V114" fill="#fff" stroke="#888" stroke-width="0.7"/><line x1="413.1" y1="15" x2="413.1" y2="114" stroke="#222" stroke-width="1.2"/><line x1="412" y1="112.7" x2="413" y2="112.7" stroke="#444" stroke-width="0.4"/><line x1="412" y1="110.9" x2="413" y2="110.9" stroke="#444" stroke-width="0.4"/><line x1="412" y1="109.0" x2="413" y2="109.0" stroke="#444" stroke-width="0.4"/><line x1="412" y1="107.2" x2="413" y2="107.2" stroke="#444" stroke-width="0.4"/><line x1="412" y1="105.3" x2="413" y2="105.3" stroke="#444" stroke-width="0.4"/><line x1="412" y1="103.5" x2="413" y2="103.5" stroke="#444" stroke-width="0.4"/><line x1="412" y1="101.6" x2="413" y2="101.6" stroke="#444" stroke-width="0.4"/><line x1="412" y1="99.8" x2="413" y2="99.8" stroke="#444" stroke-width="0.4"/><line x1="412" y1="97.9" x2="413" y2="97.9" stroke="#444" stroke-width="0.4"/><line x1="412" y1="96.1" x2="413" y2="96.1" stroke="#444" stroke-width="0.4"/><line x1="412" y1="94.2" x2="413" y2="94.2" stroke="#444" stroke-width="0.4"/><line x1="412" y1="92.4" x2="413" y2="92.4" stroke="#444" stroke-width="0.4"/><line x1="412" y1="90.5" x2="413" y2="90.5" stroke="#444" stroke-width="0.4"/><line x1="412" y1="88.7" x2="413" y2="88.7" stroke="#444" stroke-width="0.4"/><line x1="412" y1="86.9" x2="413" y2="86.9" stroke="#444" stroke-width="0.4"/><line x1="412" y1="85.0" x2="413" y2="85.0" stroke="#444" stroke-width="0.4"/><line x1="412" y1="83.2" x2="413" y2="83.2" stroke="#444" stroke-width="0.4"/><line x1="412" y1="81.3" x2="413" y2="81.3" stroke="#444" stroke-width="0.4"/><line x1="412" y1="79.5" x2="413" y2="79.5" stroke="#444" stroke-width="0.4"/><line x1="412" y1="77.6" x2="413" y2="77.6" stroke="#444" stroke-width="0.4"/><line x1="412" y1="75.8" x2="413" y2="75.8" stroke="#444" stroke-width="0.4"/><line x1="412" y1="73.9" x2="413" y2="73.9" stroke="#444" stroke-width="0.4"/><line x1="412" y1="72.1" x2="413" y2="72.1" stroke="#444" stroke-width="0.4"/><line x1="412" y1="70.2" x2="413" y2="70.2" stroke="#444" stroke-width="0.4"/><line x1="412" y1="68.4" x2="413" y2="68.4" stroke="#444" stroke-width="0.4"/><line x1="412" y1="66.5" x2="413" y2="66.5" stroke="#444" stroke-width="0.4"/><line x1="412" y1="64.7" x2="413" y2="64.7" stroke="#444" stroke-width="0.4"/><line x1="412" y1="62.9" x2="413" y2="62.9" stroke="#444" stroke-width="0.4"/><line x1="412" y1="61.0" x2="413" y2="61.0" stroke="#444" stroke-width="0.4"/><line x1="412" y1="59.2" x2="413" y2="59.2" stroke="#444" stroke-width="0.4"/><line x1="412" y1="57.3" x2="413" y2="57.3" stroke="#444" stroke-width="0.4"/><line x1="412" y1="55.5" x2="413" y2="55.5" stroke="#444" stroke-width="0.4"/><line x1="412" y1="53.6" x2="413" y2="53.6" stroke="#444" stroke-width="0.4"/><line x1="412" y1="51.8" x2="413" y2="51.8" stroke="#444" stroke-width="0.4"/><line x1="412" y1="49.9" x2="413" y2="49.9" stroke="#444" stroke-width="0.4"/><line x1="412" y1="48.1" x2="413" y2="48.1" stroke="#444" stroke-width="0.4"/><line x1="412" y1="46.2" x2="413" y2="46.2" stroke="#444" stroke-width="0.4"/><line x1="412" y1="44.4" x2="413" y2="44.4" stroke="#444" stroke-width="0.4"/><line x1="412" y1="42.6" x2="413" y2="42.6" stroke="#444" stroke-width="0.4"/><line x1="412" y1="40.7" x2="413" y2="40.7" stroke="#444" stroke-width="0.4"/><line x1="412" y1="38.9" x2="413" y2="38.9" stroke="#444" stroke-width="0.4"/><line x1="412" y1="37.0" x2="413" y2="37.0" stroke="#444" stroke-width="0.4"/><line x1="412" y1="35.2" x2="413" y2="35.2" stroke="#444" stroke-width="0.4"/><line x1="412" y1="33.3" x2="413" y2="33.3" stroke="#444" stroke-width="0.4"/><line x1="412" y1="31.5" x2="413" y2="31.5" stroke="#444" stroke-width="0.4"/><line x1="412" y1="29.6" x2="413" y2="29.6" stroke="#444" stroke-width="0.4"/><line x1="412" y1="27.8" x2="413" y2="27.8" stroke="#444" stroke-width="0.4"/><line x1="412" y1="25.9" x2="413" y2="25.9" stroke="#444" stroke-width="0.4"/><line x1="412" y1="24.1" x2="413" y2="24.1" stroke="#444" stroke-width="0.4"/><line x1="412" y1="22.2" x2="413" y2="22.2" stroke="#444" stroke-width="0.4"/><line x1="412" y1="20.4" x2="413" y2="20.4" stroke="#444" stroke-width="0.4"/><line x1="412.6" y1="114" x2="511.7" y2="114" stroke="#333" stroke-width="0.9" stroke-dasharray="1.2 0.8"/><line x1="410.2" y1="112.7" x2="412.6" y2="112.7" stroke="#444" stroke-width="0.6"/><text x="408.8" y="114.3" font-family="'Liberation Sans', sans-serif" font-size="4.6" fill="#333" text-anchor="end">0</text><line x1="410.2" y1="94.2" x2="412.6" y2="94.2" stroke="#444" stroke-width="0.6"/><text x="408.8" y="95.8" font-family="'Liberation Sans', sans-serif" font-size="4.6" fill="#333" text-anchor="end">20</text><line x1="410.2" y1="75.8" x2="412.6" y2="75.8" stroke="#444" stroke-width="0.6"/><text x="408.8" y="77.4" font-family="'Liberation Sans', sans-serif" font-size="4.6" fill="#333" text-anchor="end">40</text><line x1="410.2" y1="57.3" x2="412.6" y2="57.3" stroke="#444" stroke-width="0.6"/><text x="408.8" y="58.9" font-family="'Liberation Sans', sans-serif" font-size="4.6" fill="#333" text-anchor="end">60</text><line x1="410.2" y1="38.9" x2="412.6" y2="38.9" stroke="#444" stroke-width="0.6"/><text x="408.8" y="40.5" font-family="'Liberation Sans', sans-serif" font-size="4.6" fill="#333" text-anchor="end">80</text><line x1="410.2" y1="20.4" x2="412.6" y2="20.4" stroke="#444" stroke-width="0.6"/><text x="408.8" y="22.0" font-family="'Liberation Sans', sans-serif" font-size="4.6" fill="#333" text-anchor="end">100</text><text x="420.6" y="125.6" font-family="'Liberation Sans', sans-serif" font-size="4.6" fill="#333" text-anchor="middle">0</text><text x="435.2" y="125.6" font-family="'Liberation Sans', sans-serif" font-size="4.6" fill="#333" text-anchor="middle">10<tspan font-size="3.4" dy="-2">2</tspan></text><text x="458.6" y="125.6" font-family="'Liberation Sans', sans-serif" font-size="4.6" fill="#333" text-anchor="middle">10<tspan font-size="3.4" dy="-2">3</tspan></text><text x="481" y="125.6" font-family="'Liberation Sans', sans-serif" font-size="4.6" fill="#333" text-anchor="middle">10<tspan font-size="3.4" dy="-2">4</tspan></text><text x="503.4" y="125.6" font-family="'Liberation Sans', sans-serif" font-size="4.6" fill="#333" text-anchor="middle">10<tspan font-size="3.4" dy="-2">5</tspan></text><polygon points="412.8,113.2 412.8,67.4 415.2,68.7 417,66.9 418.7,69.2 420.8,64.8 422.8,63.6 424.6,61 426.4,62.3 428.4,57.2 430.5,55.9 432.3,53.3 433.6,43.1 434.8,50.8 436.1,39.3 437.4,35.4 439.2,27.6 440.4,31 441.5,42 442.5,52.3 444.3,59.7 445.6,66 446.3,73.9 447.6,87.8 449,98.9 451.1,105.8 453.2,110.7 456,112.5 457,113.2" fill="#2e2e2e"/><polyline points="448.3,75.3 450.5,70 453,64.5 455.6,58.6 458.2,52.7 460.8,46.8 463.4,40.8 465.3,34 466.8,28.5 468.6,25.6 469.8,29.9 471.1,38.6 472.9,47.3 474.8,56 476.8,64 478.2,71.1 480.3,85 481.7,93.3 483.8,100.3 487.2,104.4 490,105.8 492.8,108.6 496,111.5 499,112.6" fill="none" stroke="#66dd55" stroke-width="2.2" stroke-linejoin="round"/><polyline points="444.3,57.9 446.2,51 447.5,45.4 449.3,46.7 451.2,36.1 452.4,34.9 454.3,38.6 455.9,35.5 457.4,28 458.6,26.8 460.1,28.7 461.4,25.6 462.6,23.7 463.9,26.8 465.5,27.4 466.7,28.7 468.6,33.6 469.8,39.8 470.8,47.3 472,56 474,68.3 475.8,78 477.2,85 479.6,94.7 481.7,100.3 484.4,104.4 488.6,107.9 492.8,110 496.3,111.7 499.7,112.6 505,112.6 511.2,112.8" fill="none" stroke="#c4161c" stroke-width="1.6" stroke-linejoin="round"/><polyline points="450,96.8 451.8,93.3 454.6,85 458,73.9 459.9,64.7 461.7,57.9 464.2,46 466.1,36.7 467.9,27.4 468.8,20.6 471.1,21.8 473.5,24.3 475.4,32.4 476.6,42.3 477.9,52.3 479.1,61 479.6,71.1 481,80.8 482.4,91.9 483.8,97.5 485.8,101.7 488.6,105.8 492.1,111.4 493.5,112.8" fill="none" stroke="#1a1a8a" stroke-width="3" stroke-dasharray="3.6 2.4"/><path d="M31.7,249.2 H121.1 V399.2 H31.7 Z" fill="none" stroke="#000" stroke-width="1.2"/><line x1="28.9" y1="399.20" x2="31.7" y2="399.20" stroke="#000" stroke-width="1.1"/><line x1="28.9" y1="393.20" x2="31.7" y2="393.20" stroke="#000" stroke-width="1.1"/><line x1="28.9" y1="387.20" x2="31.7" y2="387.20" stroke="#000" stroke-width="1.1"/><line x1="28.9" y1="381.20" x2="31.7" y2="381.20" stroke="#000" stroke-width="1.1"/><line x1="28.9" y1="375.20" x2="31.7" y2="375.20" stroke="#000" stroke-width="1.1"/><line x1="28.9" y1="369.20" x2="31.7" y2="369.20" stroke="#000" stroke-width="1.1"/><line x1="28.9" y1="363.20" x2="31.7" y2="363.20" stroke="#000" stroke-width="1.1"/><line x1="28.9" y1="357.20" x2="31.7" y2="357.20" stroke="#000" stroke-width="1.1"/><line x1="28.9" y1="351.20" x2="31.7" y2="351.20" stroke="#000" stroke-width="1.1"/><line x1="28.9" y1="345.20" x2="31.7" y2="345.20" stroke="#000" stroke-width="1.1"/><line x1="28.9" y1="339.20" x2="31.7" y2="339.20" stroke="#000" stroke-width="1.1"/><line x1="28.9" y1="333.20" x2="31.7" y2="333.20" stroke="#000" stroke-width="1.1"/><line x1="28.9" y1="327.20" x2="31.7" y2="327.20" stroke="#000" stroke-width="1.1"/><line x1="28.9" y1="321.20" x2="31.7" y2="321.20" stroke="#000" stroke-width="1.1"/><line x1="28.9" y1="315.20" x2="31.7" y2="315.20" stroke="#000" stroke-width="1.1"/><line x1="28.9" y1="309.20" x2="31.7" y2="309.20" stroke="#000" stroke-width="1.1"/><line x1="28.9" y1="303.20" x2="31.7" y2="303.20" stroke="#000" stroke-width="1.1"/><line x1="28.9" y1="297.20" x2="31.7" y2="297.20" stroke="#000" stroke-width="1.1"/><line x1="28.9" y1="291.20" x2="31.7" y2="291.20" stroke="#000" stroke-width="1.1"/><line x1="28.9" y1="285.20" x2="31.7" y2="285.20" stroke="#000" stroke-width="1.1"/><line x1="28.9" y1="279.20" x2="31.7" y2="279.20" stroke="#000" stroke-width="1.1"/><line x1="28.9" y1="273.20" x2="31.7" y2="273.20" stroke="#000" stroke-width="1.1"/><line x1="28.9" y1="267.20" x2="31.7" y2="267.20" stroke="#000" stroke-width="1.1"/><line x1="28.9" y1="261.20" x2="31.7" y2="261.20" stroke="#000" stroke-width="1.1"/><line x1="28.9" y1="255.20" x2="31.7" y2="255.20" stroke="#000" stroke-width="1.1"/><line x1="28.9" y1="249.20" x2="31.7" y2="249.20" stroke="#000" stroke-width="1.1"/><line x1="26.2" y1="399.20" x2="31.7" y2="399.20" stroke="#000" stroke-width="1.1"/><text x="25.5" y="402.30" font-family="'Liberation Serif', serif" font-size="7.6" text-anchor="end">0</text><line x1="26.2" y1="369.20" x2="31.7" y2="369.20" stroke="#000" stroke-width="1.1"/><text x="25.5" y="372.30" font-family="'Liberation Serif', serif" font-size="7.6" text-anchor="end">10</text><line x1="26.2" y1="339.20" x2="31.7" y2="339.20" stroke="#000" stroke-width="1.1"/><text x="25.5" y="342.30" font-family="'Liberation Serif', serif" font-size="7.6" text-anchor="end">20</text><line x1="26.2" y1="309.20" x2="31.7" y2="309.20" stroke="#000" stroke-width="1.1"/><text x="25.5" y="312.30" font-family="'Liberation Serif', serif" font-size="7.6" text-anchor="end">30</text><line x1="26.2" y1="279.20" x2="31.7" y2="279.20" stroke="#000" stroke-width="1.1"/><text x="25.5" y="282.30" font-family="'Liberation Serif', serif" font-size="7.6" text-anchor="end">40</text><line x1="26.2" y1="249.20" x2="31.7" y2="249.20" stroke="#000" stroke-width="1.1"/><text x="25.5" y="252.30" font-family="'Liberation Serif', serif" font-size="7.6" text-anchor="end">50</text><line x1="49.30" y1="296.30" x2="49.30" y2="274.10" stroke="#000" stroke-width="1.2"/><line x1="46.70" y1="274.10" x2="51.90" y2="274.10" stroke="#000" stroke-width="1.3"/><rect x="43.00" y="296.30" width="12.60" height="102.90" fill="#000" stroke="#000" stroke-width="1.2"/><line x1="76.75" y1="355.40" x2="76.75" y2="342.20" stroke="#000" stroke-width="1.2"/><line x1="74.15" y1="342.20" x2="79.35" y2="342.20" stroke="#000" stroke-width="1.3"/><rect x="69.90" y="355.40" width="13.70" height="43.80" fill="#c9c9c9" stroke="#000" stroke-width="1.2"/><line x1="103.60" y1="301.40" x2="103.60" y2="279.20" stroke="#000" stroke-width="1.2"/><line x1="101.00" y1="279.20" x2="106.20" y2="279.20" stroke="#000" stroke-width="1.3"/><rect x="97.20" y="301.40" width="12.80" height="97.80" fill="#777" stroke="#000" stroke-width="1.2"/><text x="72.8" y="346.15" font-family="'Liberation Sans', sans-serif" font-weight="bold" font-size="15">*</text><rect x="85.3" y="253.7" width="11.2" height="2.3" fill="#000" stroke="#000" stroke-width="1"/><text x="99.0" y="256.8" font-family="'Liberation Sans', sans-serif" font-weight="bold" font-size="5">Wt</text><rect x="85.3" y="262.2" width="11.2" height="2.3" fill="#c9c9c9" stroke="#000" stroke-width="1"/><text x="99.0" y="265.3" font-family="'Liberation Sans', sans-serif" font-weight="bold" font-size="5">Jh<tspan font-size="3.6" dy="-2">-/-</tspan></text><rect x="85.3" y="270.7" width="11.2" height="2.3" fill="#777" stroke="#000" stroke-width="1"/><text x="99.0" y="273.8" font-family="'Liberation Sans', sans-serif" font-weight="bold" font-size="5">Jh<tspan font-size="3.6" dy="-2">-/-</tspan><tspan dy="2"> +AT</tspan></text><path d="M153.7,247.4 H243.7 V398.3 H153.7 Z" fill="none" stroke="#000" stroke-width="1.2"/><line x1="150.89999999999998" y1="398.30" x2="153.7" y2="398.30" stroke="#000" stroke-width="1.1"/><line x1="150.89999999999998" y1="390.75" x2="153.7" y2="390.75" stroke="#000" stroke-width="1.1"/><line x1="150.89999999999998" y1="383.21" x2="153.7" y2="383.21" stroke="#000" stroke-width="1.1"/><line x1="150.89999999999998" y1="375.67" x2="153.7" y2="375.67" stroke="#000" stroke-width="1.1"/><line x1="150.89999999999998" y1="368.12" x2="153.7" y2="368.12" stroke="#000" stroke-width="1.1"/><line x1="150.89999999999998" y1="360.57" x2="153.7" y2="360.57" stroke="#000" stroke-width="1.1"/><line x1="150.89999999999998" y1="353.03" x2="153.7" y2="353.03" stroke="#000" stroke-width="1.1"/><line x1="150.89999999999998" y1="345.49" x2="153.7" y2="345.49" stroke="#000" stroke-width="1.1"/><line x1="150.89999999999998" y1="337.94" x2="153.7" y2="337.94" stroke="#000" stroke-width="1.1"/><line x1="150.89999999999998" y1="330.39" x2="153.7" y2="330.39" stroke="#000" stroke-width="1.1"/><line x1="150.89999999999998" y1="322.85" x2="153.7" y2="322.85" stroke="#000" stroke-width="1.1"/><line x1="150.89999999999998" y1="315.31" x2="153.7" y2="315.31" stroke="#000" stroke-width="1.1"/><line x1="150.89999999999998" y1="307.76" x2="153.7" y2="307.76" stroke="#000" stroke-width="1.1"/><line x1="150.89999999999998" y1="300.22" x2="153.7" y2="300.22" stroke="#000" stroke-width="1.1"/><line x1="150.89999999999998" y1="292.67" x2="153.7" y2="292.67" stroke="#000" stroke-width="1.1"/><line x1="150.89999999999998" y1="285.12" x2="153.7" y2="285.12" stroke="#000" stroke-width="1.1"/><line x1="150.89999999999998" y1="277.58" x2="153.7" y2="277.58" stroke="#000" stroke-width="1.1"/><line x1="150.89999999999998" y1="270.04" x2="153.7" y2="270.04" stroke="#000" stroke-width="1.1"/><line x1="150.89999999999998" y1="262.49" x2="153.7" y2="262.49" stroke="#000" stroke-width="1.1"/><line x1="150.89999999999998" y1="254.95" x2="153.7" y2="254.95" stroke="#000" stroke-width="1.1"/><line x1="150.89999999999998" y1="247.40" x2="153.7" y2="247.40" stroke="#000" stroke-width="1.1"/><line x1="148.2" y1="398.30" x2="153.7" y2="398.30" stroke="#000" stroke-width="1.1"/><text x="147.5" y="401.40" font-family="'Liberation Serif', serif" font-size="7.6" text-anchor="end">0</text><line x1="148.2" y1="360.57" x2="153.7" y2="360.57" stroke="#000" stroke-width="1.1"/><text x="147.5" y="363.68" font-family="'Liberation Serif', serif" font-size="7.6" text-anchor="end">5</text><line x1="148.2" y1="322.85" x2="153.7" y2="322.85" stroke="#000" stroke-width="1.1"/><text x="147.5" y="325.95" font-family="'Liberation Serif', serif" font-size="7.6" text-anchor="end">10</text><line x1="148.2" y1="285.12" x2="153.7" y2="285.12" stroke="#000" stroke-width="1.1"/><text x="147.5" y="288.23" font-family="'Liberation Serif', serif" font-size="7.6" text-anchor="end">15</text><line x1="148.2" y1="247.40" x2="153.7" y2="247.40" stroke="#000" stroke-width="1.1"/><text x="147.5" y="250.50" font-family="'Liberation Serif', serif" font-size="7.6" text-anchor="end">20</text><line x1="171.47" y1="307.53" x2="171.47" y2="299.46" stroke="#000" stroke-width="1.2"/><line x1="168.88" y1="299.46" x2="174.07" y2="299.46" stroke="#000" stroke-width="1.3"/><rect x="164.80" y="307.53" width="13.35" height="90.77" fill="#000" stroke="#000" stroke-width="1.2"/><line x1="199.38" y1="276.07" x2="199.38" y2="260.23" stroke="#000" stroke-width="1.2"/><line x1="196.78" y1="260.23" x2="201.97" y2="260.23" stroke="#000" stroke-width="1.3"/><rect x="193.10" y="276.07" width="12.55" height="122.23" fill="#c9c9c9" stroke="#000" stroke-width="1.2"/><line x1="226.20" y1="297.50" x2="226.20" y2="293.73" stroke="#000" stroke-width="1.2"/><line x1="223.60" y1="293.73" x2="228.80" y2="293.73" stroke="#000" stroke-width="1.3"/><rect x="220.10" y="297.50" width="12.20" height="100.80" fill="#777" stroke="#000" stroke-width="1.2"/><text x="196" y="261.35" font-family="'Liberation Sans', sans-serif" font-weight="bold" font-size="15">*</text><rect x="208.0" y="251.7" width="11.2" height="2.3" fill="#000" stroke="#000" stroke-width="1"/><text x="221.7" y="254.79999999999998" font-family="'Liberation Sans', sans-serif" font-weight="bold" font-size="5">Wt</text><rect x="208.0" y="260.59999999999997" width="11.2" height="2.3" fill="#c9c9c9" stroke="#000" stroke-width="1"/><text x="221.7" y="263.7" font-family="'Liberation Sans', sans-serif" font-weight="bold" font-size="5">Jh<tspan font-size="3.6" dy="-2">-/-</tspan></text><rect x="208.0" y="269.5" width="11.2" height="2.3" fill="#777" stroke="#000" stroke-width="1"/><text x="221.7" y="272.6" font-family="'Liberation Sans', sans-serif" font-weight="bold" font-size="5">Jh<tspan font-size="3.6" dy="-2">-/-</tspan><tspan dy="2"> +AT</tspan></text><path d="M280.6,249.0 H370.1 V399.3 H280.6 Z" fill="none" stroke="#000" stroke-width="1.2"/><line x1="277.8" y1="399.30" x2="280.6" y2="399.30" stroke="#000" stroke-width="1.1"/><line x1="277.8" y1="395.01" x2="280.6" y2="395.01" stroke="#000" stroke-width="1.1"/><line x1="277.8" y1="390.71" x2="280.6" y2="390.71" stroke="#000" stroke-width="1.1"/><line x1="277.8" y1="386.42" x2="280.6" y2="386.42" stroke="#000" stroke-width="1.1"/><line x1="277.8" y1="382.12" x2="280.6" y2="382.12" stroke="#000" stroke-width="1.1"/><line x1="277.8" y1="377.83" x2="280.6" y2="377.83" stroke="#000" stroke-width="1.1"/><line x1="277.8" y1="373.53" x2="280.6" y2="373.53" stroke="#000" stroke-width="1.1"/><line x1="277.8" y1="369.24" x2="280.6" y2="369.24" stroke="#000" stroke-width="1.1"/><line x1="277.8" y1="364.95" x2="280.6" y2="364.95" stroke="#000" stroke-width="1.1"/><line x1="277.8" y1="360.65" x2="280.6" y2="360.65" stroke="#000" stroke-width="1.1"/><line x1="277.8" y1="356.36" x2="280.6" y2="356.36" stroke="#000" stroke-width="1.1"/><line x1="277.8" y1="352.06" x2="280.6" y2="352.06" stroke="#000" stroke-width="1.1"/><line x1="277.8" y1="347.77" x2="280.6" y2="347.77" stroke="#000" stroke-width="1.1"/><line x1="277.8" y1="343.47" x2="280.6" y2="343.47" stroke="#000" stroke-width="1.1"/><line x1="277.8" y1="339.18" x2="280.6" y2="339.18" stroke="#000" stroke-width="1.1"/><line x1="277.8" y1="334.89" x2="280.6" y2="334.89" stroke="#000" stroke-width="1.1"/><line x1="277.8" y1="330.59" x2="280.6" y2="330.59" stroke="#000" stroke-width="1.1"/><line x1="277.8" y1="326.30" x2="280.6" y2="326.30" stroke="#000" stroke-width="1.1"/><line x1="277.8" y1="322.00" x2="280.6" y2="322.00" stroke="#000" stroke-width="1.1"/><line x1="277.8" y1="317.71" x2="280.6" y2="317.71" stroke="#000" stroke-width="1.1"/><line x1="277.8" y1="313.41" x2="280.6" y2="313.41" stroke="#000" stroke-width="1.1"/><line x1="277.8" y1="309.12" x2="280.6" y2="309.12" stroke="#000" stroke-width="1.1"/><line x1="277.8" y1="304.83" x2="280.6" y2="304.83" stroke="#000" stroke-width="1.1"/><line x1="277.8" y1="300.53" x2="280.6" y2="300.53" stroke="#000" stroke-width="1.1"/><line x1="277.8" y1="296.24" x2="280.6" y2="296.24" stroke="#000" stroke-width="1.1"/><line x1="277.8" y1="291.94" x2="280.6" y2="291.94" stroke="#000" stroke-width="1.1"/><line x1="277.8" y1="287.65" x2="280.6" y2="287.65" stroke="#000" stroke-width="1.1"/><line x1="277.8" y1="283.35" x2="280.6" y2="283.35" stroke="#000" stroke-width="1.1"/><line x1="277.8" y1="279.06" x2="280.6" y2="279.06" stroke="#000" stroke-width="1.1"/><line x1="277.8" y1="274.77" x2="280.6" y2="274.77" stroke="#000" stroke-width="1.1"/><line x1="277.8" y1="270.47" x2="280.6" y2="270.47" stroke="#000" stroke-width="1.1"/><line x1="277.8" y1="266.18" x2="280.6" y2="266.18" stroke="#000" stroke-width="1.1"/><line x1="277.8" y1="261.88" x2="280.6" y2="261.88" stroke="#000" stroke-width="1.1"/><line x1="277.8" y1="257.59" x2="280.6" y2="257.59" stroke="#000" stroke-width="1.1"/><line x1="277.8" y1="253.29" x2="280.6" y2="253.29" stroke="#000" stroke-width="1.1"/><line x1="277.8" y1="249.00" x2="280.6" y2="249.00" stroke="#000" stroke-width="1.1"/><line x1="275.1" y1="399.30" x2="280.6" y2="399.30" stroke="#000" stroke-width="1.1"/><text x="274.40000000000003" y="402.40" font-family="'Liberation Serif', serif" font-size="7.4" text-anchor="end">0</text><line x1="275.1" y1="377.83" x2="280.6" y2="377.83" stroke="#000" stroke-width="1.1"/><text x="274.40000000000003" y="380.93" font-family="'Liberation Serif', serif" font-size="7.4" text-anchor="end">10</text><line x1="275.1" y1="356.36" x2="280.6" y2="356.36" stroke="#000" stroke-width="1.1"/><text x="274.40000000000003" y="359.46" font-family="'Liberation Serif', serif" font-size="7.4" text-anchor="end">20</text><line x1="275.1" y1="334.89" x2="280.6" y2="334.89" stroke="#000" stroke-width="1.1"/><text x="274.40000000000003" y="337.99" font-family="'Liberation Serif', serif" font-size="7.4" text-anchor="end">30</text><line x1="275.1" y1="313.41" x2="280.6" y2="313.41" stroke="#000" stroke-width="1.1"/><text x="274.40000000000003" y="316.51" font-family="'Liberation Serif', serif" font-size="7.4" text-anchor="end">40</text><line x1="275.1" y1="291.94" x2="280.6" y2="291.94" stroke="#000" stroke-width="1.1"/><text x="274.40000000000003" y="295.04" font-family="'Liberation Serif', serif" font-size="7.4" text-anchor="end">50</text><line x1="275.1" y1="270.47" x2="280.6" y2="270.47" stroke="#000" stroke-width="1.1"/><text x="274.40000000000003" y="273.57" font-family="'Liberation Serif', serif" font-size="7.4" text-anchor="end">60</text><line x1="275.1" y1="249.00" x2="280.6" y2="249.00" stroke="#000" stroke-width="1.1"/><text x="274.40000000000003" y="252.10" font-family="'Liberation Serif', serif" font-size="7.4" text-anchor="end">70</text><line x1="298.20" y1="294.30" x2="298.20" y2="272.40" stroke="#000" stroke-width="1.2"/><line x1="295.60" y1="272.40" x2="300.80" y2="272.40" stroke="#000" stroke-width="1.3"/><rect x="291.60" y="294.30" width="13.20" height="105.00" fill="#000" stroke="#000" stroke-width="1.2"/><line x1="325.75" y1="338.75" x2="325.75" y2="332.31" stroke="#000" stroke-width="1.2"/><line x1="323.15" y1="332.31" x2="328.35" y2="332.31" stroke="#000" stroke-width="1.3"/><rect x="319.40" y="338.75" width="12.70" height="60.55" fill="#c9c9c9" stroke="#000" stroke-width="1.2"/><line x1="352.40" y1="289.58" x2="352.40" y2="269.40" stroke="#000" stroke-width="1.2"/><line x1="349.80" y1="269.40" x2="355.00" y2="269.40" stroke="#000" stroke-width="1.3"/><rect x="346.20" y="289.58" width="12.40" height="109.72" fill="#777" stroke="#000" stroke-width="1.2"/><text x="321.8" y="334.65" font-family="'Liberation Sans', sans-serif" font-weight="bold" font-size="15">*</text><rect x="312.6" y="251.5" width="11.2" height="2.3" fill="#000" stroke="#000" stroke-width="1"/><text x="326.3" y="254.6" font-family="'Liberation Sans', sans-serif" font-weight="bold" font-size="5">Wt</text><rect x="312.6" y="260.1" width="11.2" height="2.3" fill="#c9c9c9" stroke="#000" stroke-width="1"/><text x="326.3" y="263.20000000000005" font-family="'Liberation Sans', sans-serif" font-weight="bold" font-size="5">Jh<tspan font-size="3.6" dy="-2">-/-</tspan></text><rect x="312.6" y="268.7" width="11.2" height="2.3" fill="#777" stroke="#000" stroke-width="1"/><text x="326.3" y="271.8" font-family="'Liberation Sans', sans-serif" font-weight="bold" font-size="5">Jh<tspan font-size="3.6" dy="-2">-/-</tspan><tspan dy="2"> +AT</tspan></text><path d="M418.5,248.7 H507.4 V397.1 H418.5 Z" fill="none" stroke="#000" stroke-width="1.2"/><line x1="415.7" y1="397.10" x2="418.5" y2="397.10" stroke="#000" stroke-width="1.1"/><line x1="415.7" y1="391.16" x2="418.5" y2="391.16" stroke="#000" stroke-width="1.1"/><line x1="415.7" y1="385.23" x2="418.5" y2="385.23" stroke="#000" stroke-width="1.1"/><line x1="415.7" y1="379.29" x2="418.5" y2="379.29" stroke="#000" stroke-width="1.1"/><line x1="415.7" y1="373.36" x2="418.5" y2="373.36" stroke="#000" stroke-width="1.1"/><line x1="415.7" y1="367.42" x2="418.5" y2="367.42" stroke="#000" stroke-width="1.1"/><line x1="415.7" y1="361.48" x2="418.5" y2="361.48" stroke="#000" stroke-width="1.1"/><line x1="415.7" y1="355.55" x2="418.5" y2="355.55" stroke="#000" stroke-width="1.1"/><line x1="415.7" y1="349.61" x2="418.5" y2="349.61" stroke="#000" stroke-width="1.1"/><line x1="415.7" y1="343.68" x2="418.5" y2="343.68" stroke="#000" stroke-width="1.1"/><line x1="415.7" y1="337.74" x2="418.5" y2="337.74" stroke="#000" stroke-width="1.1"/><line x1="415.7" y1="331.80" x2="418.5" y2="331.80" stroke="#000" stroke-width="1.1"/><line x1="415.7" y1="325.87" x2="418.5" y2="325.87" stroke="#000" stroke-width="1.1"/><line x1="415.7" y1="319.93" x2="418.5" y2="319.93" stroke="#000" stroke-width="1.1"/><line x1="415.7" y1="314.00" x2="418.5" y2="314.00" stroke="#000" stroke-width="1.1"/><line x1="415.7" y1="308.06" x2="418.5" y2="308.06" stroke="#000" stroke-width="1.1"/><line x1="415.7" y1="302.12" x2="418.5" y2="302.12" stroke="#000" stroke-width="1.1"/><line x1="415.7" y1="296.19" x2="418.5" y2="296.19" stroke="#000" stroke-width="1.1"/><line x1="415.7" y1="290.25" x2="418.5" y2="290.25" stroke="#000" stroke-width="1.1"/><line x1="415.7" y1="284.32" x2="418.5" y2="284.32" stroke="#000" stroke-width="1.1"/><line x1="415.7" y1="278.38" x2="418.5" y2="278.38" stroke="#000" stroke-width="1.1"/><line x1="415.7" y1="272.44" x2="418.5" y2="272.44" stroke="#000" stroke-width="1.1"/><line x1="415.7" y1="266.51" x2="418.5" y2="266.51" stroke="#000" stroke-width="1.1"/><line x1="415.7" y1="260.57" x2="418.5" y2="260.57" stroke="#000" stroke-width="1.1"/><line x1="415.7" y1="254.64" x2="418.5" y2="254.64" stroke="#000" stroke-width="1.1"/><line x1="415.7" y1="248.70" x2="418.5" y2="248.70" stroke="#000" stroke-width="1.1"/><line x1="413.0" y1="397.10" x2="418.5" y2="397.10" stroke="#000" stroke-width="1.1"/><text x="410.1" y="400.20" font-family="'Liberation Sans', sans-serif" font-weight="bold" font-size="8" text-anchor="end">0</text><line x1="413.0" y1="367.42" x2="418.5" y2="367.42" stroke="#000" stroke-width="1.1"/><text x="410.1" y="370.52" font-family="'Liberation Sans', sans-serif" font-weight="bold" font-size="8" text-anchor="end">5</text><line x1="413.0" y1="337.74" x2="418.5" y2="337.74" stroke="#000" stroke-width="1.1"/><text x="410.1" y="340.84" font-family="'Liberation Sans', sans-serif" font-weight="bold" font-size="8" text-anchor="end">10</text><line x1="413.0" y1="308.06" x2="418.5" y2="308.06" stroke="#000" stroke-width="1.1"/><text x="410.1" y="311.16" font-family="'Liberation Sans', sans-serif" font-weight="bold" font-size="8" text-anchor="end">15</text><line x1="413.0" y1="278.38" x2="418.5" y2="278.38" stroke="#000" stroke-width="1.1"/><text x="410.1" y="281.48" font-family="'Liberation Sans', sans-serif" font-weight="bold" font-size="8" text-anchor="end">20</text><line x1="413.0" y1="248.70" x2="418.5" y2="248.70" stroke="#000" stroke-width="1.1"/><text x="410.1" y="251.80" font-family="'Liberation Sans', sans-serif" font-weight="bold" font-size="8" text-anchor="end">25</text><line x1="436.10" y1="328.60" x2="436.10" y2="323.67" stroke="#000" stroke-width="1.2"/><line x1="433.50" y1="323.67" x2="438.70" y2="323.67" stroke="#000" stroke-width="1.3"/><rect x="429.40" y="328.60" width="13.40" height="68.50" fill="#000" stroke="#000" stroke-width="1.2"/><line x1="462.95" y1="283.13" x2="462.95" y2="274.40" stroke="#000" stroke-width="1.2"/><line x1="460.35" y1="274.40" x2="465.55" y2="274.40" stroke="#000" stroke-width="1.3"/><rect x="456.80" y="283.13" width="12.30" height="113.97" fill="#c9c9c9" stroke="#000" stroke-width="1.2"/><line x1="489.55" y1="321.71" x2="489.55" y2="314.83" stroke="#000" stroke-width="1.2"/><line x1="486.95" y1="314.83" x2="492.15" y2="314.83" stroke="#000" stroke-width="1.3"/><rect x="483.10" y="321.71" width="12.90" height="75.39" fill="#777" stroke="#000" stroke-width="1.2"/><text x="460.2" y="279.35" font-family="'Liberation Sans', sans-serif" font-weight="bold" font-size="15">*</text><rect x="472.0" y="253.4" width="11.2" height="2.3" fill="#000" stroke="#000" stroke-width="1"/><text x="485.7" y="256.5" font-family="'Liberation Sans', sans-serif" font-weight="bold" font-size="5">Wt</text><rect x="472.0" y="262.1" width="11.2" height="2.3" fill="#c9c9c9" stroke="#000" stroke-width="1"/><text x="485.7" y="265.20000000000005" font-family="'Liberation Sans', sans-serif" font-weight="bold" font-size="5">Jh<tspan font-size="3.6" dy="-2">-/-</tspan></text><rect x="472.0" y="270.8" width="11.2" height="2.3" fill="#777" stroke="#000" stroke-width="1"/><text x="485.7" y="273.90000000000003" font-family="'Liberation Sans', sans-serif" font-weight="bold" font-size="5">Jh<tspan font-size="3.6" dy="-2">-/-</tspan><tspan dy="2"> +AT</tspan></text><text transform="translate(14.2,324.6) rotate(-90)" font-family="'Liberation Sans', sans-serif" font-weight="bold" font-size="10.4" text-anchor="middle">number of CD4<tspan font-size="6.5" dy="-3.6">+</tspan><tspan dy="3.6">T-cells (x 10<tspan font-size="8" dy="-4.2">4</tspan><tspan dy="4.2">)</tspan></tspan></text><text transform="translate(136.3,323.3) rotate(-90)" font-family="'Liberation Sans', sans-serif" font-weight="bold" font-size="10.4" text-anchor="middle">number of CD8<tspan font-size="6.5" dy="-3.6">+</tspan><tspan dy="3.6">T-cells (x 10<tspan font-size="8" dy="-4.2">5</tspan><tspan dy="4.2">)</tspan></tspan></text><text transform="translate(264,326.4) rotate(-90)" font-family="'Liberation Sans', sans-serif" font-weight="bold" font-size="10.4" text-anchor="middle">number of Treg cells (x 10<tspan font-size="8" dy="-4.2">4</tspan><tspan dy="4.2">)</tspan></text><text transform="translate(384.4,323.8) rotate(-90)" font-family="'Liberation Sans', sans-serif" font-weight="bold" font-size="9.1" text-anchor="middle">MFI for MHC class II expression</text><text transform="translate(393.9,324.2) rotate(-90)" font-family="'Liberation Sans', sans-serif" font-weight="bold" font-size="9.1" text-anchor="middle">on microglia (x 10<tspan font-size="6.5" dy="-3.2">3</tspan><tspan dy="3.2">)</tspan></text></svg></body></html>
